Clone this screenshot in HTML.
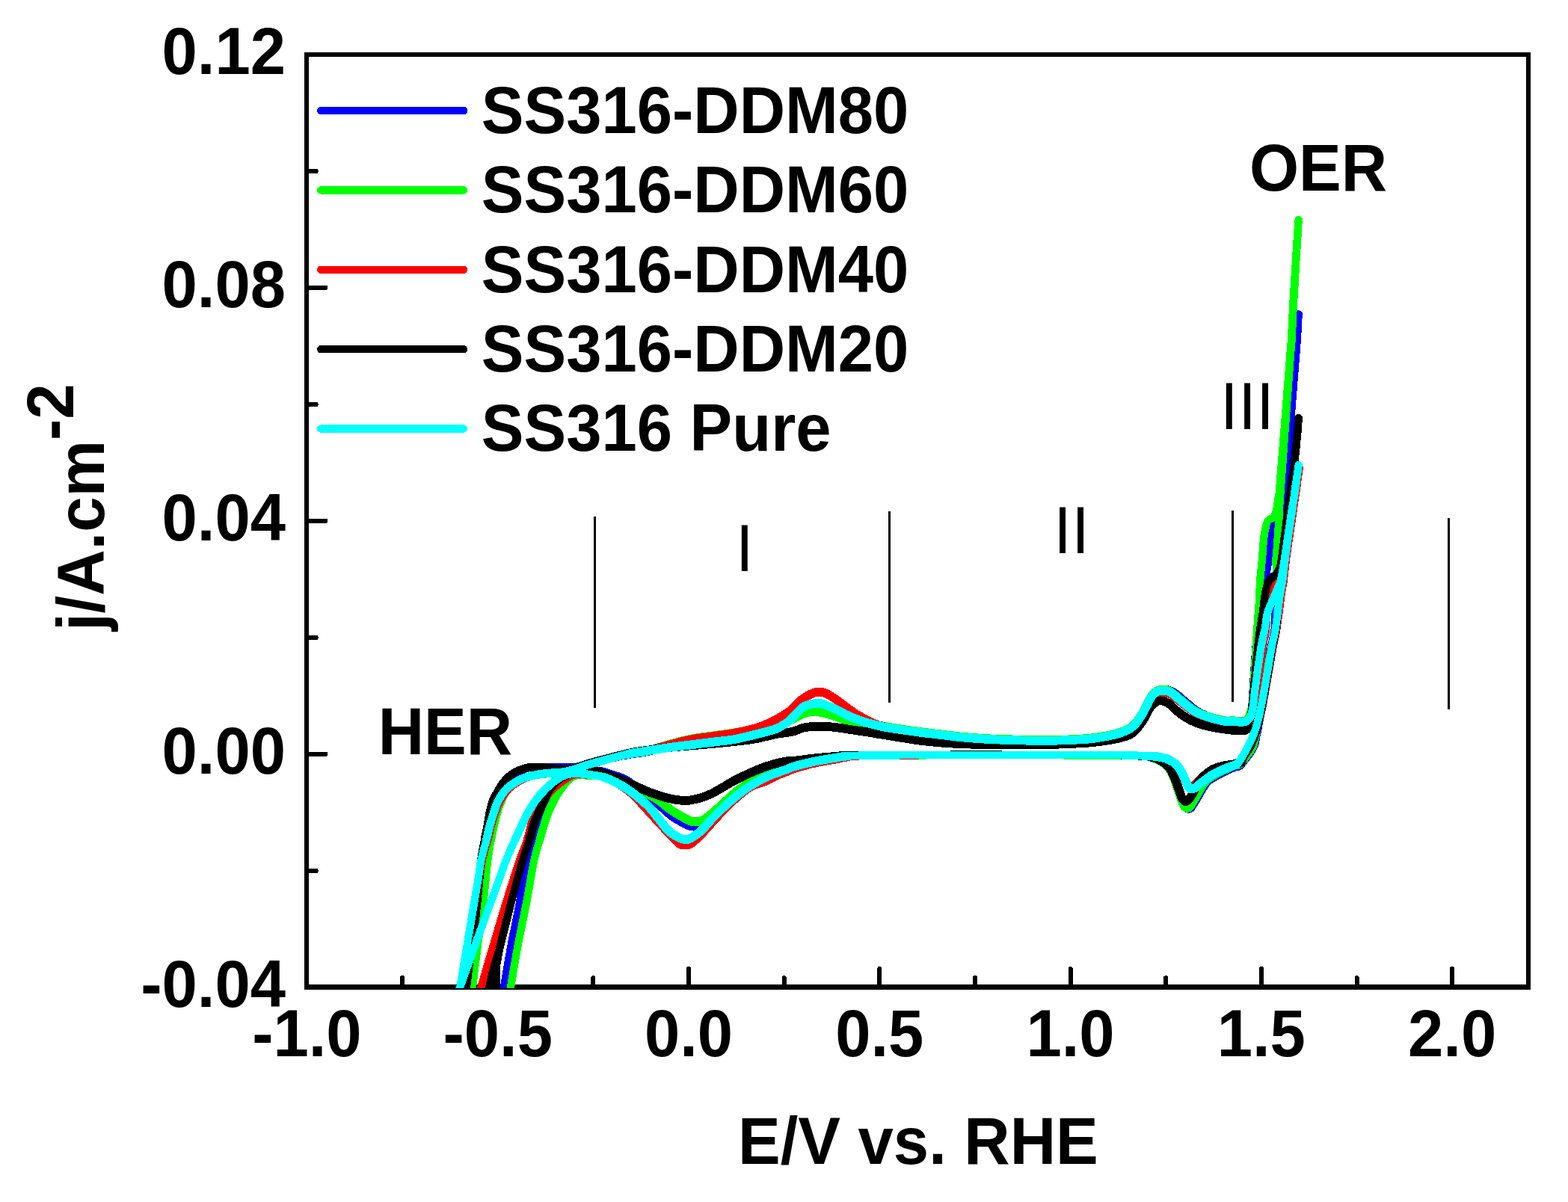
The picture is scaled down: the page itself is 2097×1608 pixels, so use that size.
<!DOCTYPE html>
<html lang="en"><head><meta charset="utf-8"><title>Cyclic voltammetry SS316-DDM</title>
<style>html,body{margin:0;padding:0;background:#fff}body{width:2097px;height:1608px}svg{display:block}text{font-family:"Liberation Sans",sans-serif;font-size:85px;fill:#000}.b{font-weight:bold}.r{font-weight:normal}.c{fill:none;stroke-width:10.3;stroke-linejoin:round;stroke-linecap:round}</style></head><body>
<svg width="2097" height="1608" viewBox="0 0 2097 1608" role="img" aria-label="Cyclic voltammograms of SS316 electrodes">
<rect x="0" y="0" width="2097" height="1608" fill="#fff"/>
<defs><clipPath id="plot"><rect x="410" y="73" width="1634" height="1249"/></clipPath></defs>
<g fill="#000" shape-rendering="crispEdges">
<rect x="407" y="70" width="1640" height="6"/>
<rect x="407" y="1317" width="1640" height="7"/>
<rect x="407" y="70" width="6" height="1254"/>
<rect x="2041" y="70" width="6" height="1253"/>
<rect x="409" y="1162.0" width="16.5" height="6" rx="2"/>
<rect x="409" y="1006.0" width="29.0" height="6" rx="2"/>
<rect x="409" y="850.0" width="16.5" height="6" rx="2"/>
<rect x="409" y="694.0" width="29.0" height="6" rx="2"/>
<rect x="409" y="538.0" width="16.5" height="6" rx="2"/>
<rect x="409" y="382.0" width="29.0" height="6" rx="2"/>
<rect x="409" y="226.0" width="16.5" height="6" rx="2"/>
<rect x="535.1" y="1305.3" width="6" height="16.7" rx="2"/>
<rect x="662.7" y="1293.2" width="6" height="28.8" rx="2"/>
<rect x="790.4" y="1305.3" width="6" height="16.7" rx="2"/>
<rect x="918.0" y="1293.2" width="6" height="28.8" rx="2"/>
<rect x="1045.6" y="1305.3" width="6" height="16.7" rx="2"/>
<rect x="1173.3" y="1293.2" width="6" height="28.8" rx="2"/>
<rect x="1300.9" y="1305.3" width="6" height="16.7" rx="2"/>
<rect x="1428.5" y="1293.2" width="6" height="28.8" rx="2"/>
<rect x="1556.2" y="1305.3" width="6" height="16.7" rx="2"/>
<rect x="1683.8" y="1293.2" width="6" height="28.8" rx="2"/>
<rect x="1811.5" y="1305.3" width="6" height="16.7" rx="2"/>
<rect x="1939.1" y="1293.2" width="6" height="28.8" rx="2"/>
<rect x="794.0" y="691.0" width="3" height="256.0"/>
<rect x="1188.0" y="684.0" width="3" height="256.0"/>
<rect x="1647.0" y="683.0" width="3" height="256.0"/>
<rect x="1936.0" y="693.0" width="3" height="256.0"/>
</g>
<g clip-path="url(#plot)" shape-rendering="crispEdges">
<path class="c" stroke="#0000ff" d="M625.8 1333.1C626.3 1330.8 627.1 1330.8 628.6 1319.4C630.2 1307.9 632.9 1283.1 634.9 1264.4C636.9 1245.8 638.9 1226.3 640.7 1207.2C642.4 1188.1 643.7 1163.9 645.2 1150.0C646.8 1136.1 648.5 1131.8 649.9 1124.0C651.3 1116.2 652.6 1109.7 653.7 1103.3C654.9 1096.8 655.5 1090.8 656.8 1085.0C658.0 1079.3 659.8 1072.9 661.4 1068.8C662.9 1064.7 664.1 1063.8 666.1 1060.4C668.1 1057.1 670.6 1052.2 673.2 1048.6C675.8 1045.1 678.8 1041.9 681.9 1039.2C684.9 1036.6 688.4 1034.6 691.6 1032.9C694.7 1031.2 698.1 1030.1 700.7 1029.1C703.4 1028.1 702.0 1027.4 707.4 1026.9C712.8 1026.4 725.8 1026.3 733.3 1026.2C740.7 1026.0 746.3 1026.2 752.4 1026.2C758.5 1026.2 765.5 1026.4 770.0 1026.2C774.4 1025.9 775.8 1025.3 779.1 1024.5C782.5 1023.6 780.3 1023.5 790.0 1021.0C799.7 1018.6 824.6 1012.5 837.2 1009.8C849.9 1007.2 856.3 1007.2 865.8 1005.1C875.4 1003.0 884.9 999.7 894.4 997.2C904.0 994.7 913.5 992.0 923.1 990.1C932.6 988.2 942.1 987.2 951.7 985.8C961.2 984.3 970.7 983.0 980.3 981.5C989.8 979.9 999.4 978.5 1008.9 976.5C1018.4 974.5 1029.0 971.8 1037.5 969.3C1046.0 966.8 1053.8 964.4 1060.0 961.5C1066.1 958.5 1069.5 953.9 1074.3 951.5C1079.1 949.2 1085.0 948.0 1088.6 947.2C1092.2 946.5 1093.4 946.7 1095.8 947.0C1098.1 947.2 1099.3 947.4 1102.9 948.7C1106.5 949.9 1112.5 952.4 1117.2 954.4C1122.0 956.4 1126.8 958.9 1131.5 960.8C1136.3 962.7 1141.1 964.5 1145.8 965.8C1150.6 967.1 1155.4 967.9 1160.1 968.7C1164.9 969.5 1167.3 969.7 1174.4 970.8C1181.6 972.0 1193.5 974.1 1203.1 975.6C1212.6 977.0 1222.1 978.3 1231.7 979.6C1241.2 980.8 1250.7 981.9 1260.3 983.0C1269.8 984.1 1279.4 985.4 1288.9 986.3C1298.4 987.2 1308.0 987.9 1317.5 988.4C1327.0 989.0 1332.8 989.2 1346.1 989.6C1359.4 989.9 1379.2 990.8 1397.2 990.6C1415.3 990.4 1440.1 989.5 1454.4 988.4C1468.8 987.4 1475.9 985.5 1483.1 984.1C1490.2 982.8 1492.6 982.2 1497.4 980.6C1502.1 979.0 1508.1 976.5 1511.7 974.4C1515.3 972.3 1516.4 970.7 1518.8 968.0C1521.2 965.2 1523.6 961.8 1526.0 958.0C1528.4 954.2 1530.7 949.5 1533.1 945.1C1535.5 940.7 1537.9 934.9 1540.3 931.5C1542.7 928.1 1545.1 926.1 1547.4 924.6C1549.8 923.2 1552.0 923.1 1554.6 922.9C1557.2 922.8 1560.3 922.8 1563.2 923.6C1566.0 924.5 1567.9 925.2 1571.8 927.9C1575.6 930.6 1581.4 936.0 1586.1 939.8C1590.7 943.6 1595.1 947.8 1599.7 950.8C1604.2 953.8 1608.7 955.8 1613.2 957.7C1617.8 959.5 1622.4 960.8 1626.8 962.0C1631.3 963.1 1636.4 964.3 1640.0 964.7C1643.6 965.1 1645.3 964.4 1648.7 964.5C1652.0 964.7 1657.0 965.7 1660.1 965.7C1663.3 965.6 1665.6 965.5 1667.6 964.2C1669.5 962.9 1670.5 960.5 1671.6 957.9C1672.6 955.3 1673.1 958.8 1674.1 948.7C1675.0 938.6 1676.0 915.0 1677.3 897.2C1678.5 879.4 1680.2 854.8 1681.5 842.0C1682.9 829.2 1684.0 827.7 1685.2 820.2C1686.4 812.8 1687.3 805.9 1688.7 797.3C1690.0 788.8 1692.0 776.4 1693.2 768.7C1694.5 761.1 1695.2 758.2 1696.1 751.6C1697.1 744.9 1698.2 735.3 1699.0 728.7C1699.7 722.0 1700.0 715.9 1700.7 711.5C1701.4 707.1 1701.8 704.8 1703.3 702.3C1704.7 699.9 1707.9 698.9 1709.3 696.6C1710.7 694.3 1710.7 692.8 1711.6 688.6C1712.4 684.4 1713.6 676.2 1714.4 671.4C1715.2 666.7 1715.2 669.7 1716.4 660.0C1717.7 650.3 1720.1 632.6 1721.9 613.3C1723.6 594.1 1725.2 567.6 1727.0 544.7C1728.8 521.8 1731.5 491.1 1732.7 476.0C1734.0 460.9 1733.8 463.3 1734.4 454.0C1735.1 444.7 1736.4 425.9 1736.7 420.3"/>
<path class="c" stroke="#0000ff" style="stroke-width:11.0" d="M649.9 1124.0C651.3 1116.2 652.6 1109.7 653.7 1103.3C654.9 1096.8 655.5 1090.8 656.8 1085.0C658.0 1079.3 659.8 1072.9 661.4 1068.8C662.9 1064.7 664.1 1063.8 666.1 1060.4C668.1 1057.1 670.6 1052.2 673.2 1048.6C675.8 1045.1 678.8 1041.9 681.9 1039.2C684.9 1036.6 688.4 1034.6 691.6 1032.9C694.7 1031.2 698.1 1030.1 700.7 1029.1C703.4 1028.1 702.0 1027.4 707.4 1026.9C712.8 1026.4 725.8 1026.3 733.3 1026.2C740.7 1026.0 746.3 1026.2 752.4 1026.2C758.5 1026.2 765.5 1026.4 770.0 1026.2C774.4 1025.9 775.8 1025.3 779.1 1024.5C782.5 1023.6 780.3 1023.5 790.0 1021.0C799.7 1018.6 824.6 1012.5 837.2 1009.8"/>
<path class="c" stroke="#0000ff" style="stroke-width:11.8" d="M837.2 1009.8C849.9 1007.2 856.3 1007.2 865.8 1005.1C875.4 1003.0 884.9 999.7 894.4 997.2C904.0 994.7 913.5 992.0 923.1 990.1C932.6 988.2 942.1 987.2 951.7 985.8C961.2 984.3 970.7 983.0 980.3 981.5C989.8 979.9 999.4 978.5 1008.9 976.5C1018.4 974.5 1029.0 971.8 1037.5 969.3C1046.0 966.8 1053.8 964.4 1060.0 961.5C1066.1 958.5 1069.5 953.9 1074.3 951.5C1079.1 949.2 1085.0 948.0 1088.6 947.2C1092.2 946.5 1093.4 946.7 1095.8 947.0C1098.1 947.2 1099.3 947.4 1102.9 948.7C1106.5 949.9 1112.5 952.4 1117.2 954.4C1122.0 956.4 1126.8 958.9 1131.5 960.8C1136.3 962.7 1141.1 964.5 1145.8 965.8C1150.6 967.1 1155.4 967.9 1160.1 968.7C1164.9 969.5 1167.3 969.7 1174.4 970.8C1181.6 972.0 1193.5 974.1 1203.1 975.6C1212.6 977.0 1222.1 978.3 1231.7 979.6C1241.2 980.8 1250.7 981.9 1260.3 983.0C1269.8 984.1 1279.4 985.4 1288.9 986.3C1298.4 987.2 1308.0 987.9 1317.5 988.4C1327.0 989.0 1332.8 989.2 1346.1 989.6C1359.4 989.9 1379.2 990.8 1397.2 990.6C1415.3 990.4 1440.1 989.5 1454.4 988.4C1468.8 987.4 1475.9 985.5 1483.1 984.1C1490.2 982.8 1492.6 982.2 1497.4 980.6C1502.1 979.0 1508.1 976.5 1511.7 974.4C1515.3 972.3 1516.4 970.7 1518.8 968.0C1521.2 965.2 1523.6 961.8 1526.0 958.0C1528.4 954.2 1530.7 949.5 1533.1 945.1C1535.5 940.7 1537.9 934.9 1540.3 931.5C1542.7 928.1 1545.1 926.1 1547.4 924.6C1549.8 923.2 1552.0 923.1 1554.6 922.9C1557.2 922.8 1560.3 922.8 1563.2 923.6C1566.0 924.5 1567.9 925.2 1571.8 927.9C1575.6 930.6 1581.4 936.0 1586.1 939.8C1590.7 943.6 1595.1 947.8 1599.7 950.8C1604.2 953.8 1608.7 955.8 1613.2 957.7C1617.8 959.5 1622.4 960.8 1626.8 962.0C1631.3 963.1 1636.4 964.3 1640.0 964.7C1643.6 965.1 1645.3 964.4 1648.7 964.5C1652.0 964.7 1657.0 965.7 1660.1 965.7C1663.3 965.6 1665.6 965.5 1667.6 964.2"/>
<path class="c" stroke="#0000ff" d="M1736.7 420.3C1736.4 425.9 1735.4 444.7 1734.8 454.0C1734.2 463.3 1734.3 460.9 1733.1 476.0C1731.9 491.1 1729.4 521.8 1727.6 544.7C1725.8 567.6 1724.1 594.1 1722.4 613.3C1720.8 632.6 1718.8 646.5 1717.6 660.0C1716.3 673.5 1716.0 682.9 1715.0 694.3C1714.0 705.8 1712.6 719.1 1711.6 728.7C1710.5 738.2 1709.6 743.9 1708.7 751.6C1707.8 759.2 1707.0 766.8 1706.4 774.4C1705.8 782.1 1705.5 789.7 1705.3 797.3C1705.1 805.0 1705.4 812.8 1705.3 820.2C1705.2 827.7 1706.2 831.1 1704.6 842.0C1703.0 852.9 1697.9 872.8 1695.6 885.8C1693.3 898.8 1692.4 910.6 1691.0 920.1C1689.7 929.7 1688.7 935.4 1687.6 943.0C1686.4 950.6 1685.3 959.2 1684.1 965.9C1683.0 972.6 1682.0 977.3 1680.7 983.1C1679.4 988.8 1679.8 993.7 1676.4 1000.2C1672.9 1006.8 1664.0 1018.1 1660.0 1022.3C1656.0 1026.5 1655.4 1024.1 1652.2 1025.5C1648.9 1026.8 1644.5 1028.8 1640.7 1030.6C1636.8 1032.4 1632.8 1034.2 1628.8 1036.5C1624.8 1038.7 1619.6 1041.5 1616.5 1044.0C1613.4 1046.5 1612.1 1048.7 1610.0 1051.7C1608.0 1054.7 1606.0 1058.6 1604.0 1061.9C1602.1 1065.2 1600.5 1068.2 1598.4 1071.4C1596.4 1074.6 1594.0 1079.6 1591.8 1081.0C1589.6 1082.4 1586.9 1081.2 1585.2 1079.8C1583.5 1078.4 1582.7 1075.5 1581.5 1072.7C1580.2 1069.9 1579.0 1066.3 1577.8 1062.9C1576.6 1059.6 1575.7 1056.5 1574.3 1052.6C1573.0 1048.8 1571.5 1044.1 1569.8 1040.1C1568.0 1036.1 1566.6 1032.0 1564.0 1028.6C1561.5 1025.2 1558.3 1022.0 1554.3 1019.5C1550.3 1016.9 1544.7 1014.5 1540.0 1013.2C1535.3 1011.9 1533.1 1012.1 1526.0 1011.6C1518.9 1011.2 1528.4 1010.7 1497.4 1010.5C1466.4 1010.2 1389.1 1010.1 1340.0 1010.0C1290.9 1010.0 1233.0 1010.2 1203.1 1010.3C1173.1 1010.4 1172.1 1010.4 1160.1 1010.6C1148.2 1010.8 1138.7 1011.2 1131.5 1011.6C1124.4 1012.0 1124.4 1012.1 1117.2 1013.0C1110.1 1014.0 1098.1 1015.7 1088.6 1017.3C1079.1 1019.0 1066.1 1021.6 1060.0 1023.1C1053.9 1024.5 1055.3 1024.7 1051.8 1025.8C1048.3 1027.0 1043.4 1028.3 1038.9 1029.8C1034.5 1031.4 1029.6 1033.1 1024.9 1035.1C1020.3 1037.1 1015.6 1039.4 1011.0 1041.9C1006.5 1044.4 1002.1 1047.0 997.5 1050.2C992.9 1053.3 988.2 1056.9 983.4 1060.9C978.7 1064.9 973.9 1069.5 969.1 1074.2C964.4 1078.8 958.9 1084.4 954.8 1088.8C950.7 1093.1 947.4 1097.6 944.5 1100.2C941.6 1102.9 939.8 1103.6 937.4 1104.5C935.0 1105.4 932.6 1105.6 930.2 1105.7C927.8 1105.7 926.3 1106.0 923.1 1104.9C919.8 1103.9 915.2 1101.6 910.9 1099.2C906.6 1096.8 902.0 1094.2 897.3 1090.6C892.7 1087.1 888.2 1082.4 883.0 1078.1C877.8 1073.7 873.5 1070.2 865.8 1064.5C858.2 1058.7 844.4 1048.1 837.2 1043.7C830.1 1039.3 828.9 1040.0 822.9 1038.0C817.0 1036.0 806.9 1031.9 801.5 1031.6C796.0 1031.2 793.7 1035.3 790.0 1035.9C786.3 1036.6 782.5 1035.3 779.1 1035.3C775.8 1035.4 772.8 1035.6 770.0 1036.3C767.2 1037.1 764.7 1038.3 762.3 1039.8C759.9 1041.2 758.0 1042.6 755.4 1045.1C752.9 1047.7 749.4 1052.0 747.0 1055.1C744.6 1058.1 743.3 1059.9 740.9 1063.5C738.5 1067.0 734.8 1072.7 732.5 1076.5C730.2 1080.3 728.9 1082.6 727.1 1086.4C725.4 1090.2 723.7 1095.3 722.2 1099.4C720.6 1103.5 719.2 1107.0 718.0 1110.9C716.7 1114.8 717.2 1116.5 714.9 1123.0C712.6 1129.5 707.5 1136.0 704.2 1150.0C700.9 1164.0 698.5 1188.1 695.0 1207.2C691.6 1226.3 687.1 1245.8 683.6 1264.4C680.1 1283.1 676.1 1307.9 674.1 1319.4C672.1 1330.8 672.0 1330.8 671.6 1333.1"/>
<path class="c" stroke="#0000ff" style="stroke-width:11.8" d="M1660.0 1022.3C1656.0 1026.5 1655.4 1024.1 1652.2 1025.5C1648.9 1026.8 1644.5 1028.8 1640.7 1030.6C1636.8 1032.4 1632.8 1034.2 1628.8 1036.5C1624.8 1038.7 1619.6 1041.5 1616.5 1044.0C1613.4 1046.5 1612.1 1048.7 1610.0 1051.7C1608.0 1054.7 1606.0 1058.6 1604.0 1061.9C1602.1 1065.2 1600.5 1068.2 1598.4 1071.4C1596.4 1074.6 1594.0 1079.6 1591.8 1081.0C1589.6 1082.4 1586.9 1081.2 1585.2 1079.8C1583.5 1078.4 1582.7 1075.5 1581.5 1072.7C1580.2 1069.9 1579.0 1066.3 1577.8 1062.9C1576.6 1059.6 1575.7 1056.5 1574.3 1052.6C1573.0 1048.8 1571.5 1044.1 1569.8 1040.1C1568.0 1036.1 1566.6 1032.0 1564.0 1028.6C1561.5 1025.2 1558.3 1022.0 1554.3 1019.5C1550.3 1016.9 1544.7 1014.5 1540.0 1013.2"/>
<path class="c" stroke="#0000ff" style="stroke-width:10.6" d="M1540.0 1013.2C1535.3 1011.9 1533.1 1012.1 1526.0 1011.6C1518.9 1011.2 1528.4 1010.7 1497.4 1010.5C1466.4 1010.2 1389.1 1010.1 1340.0 1010.0C1290.9 1010.0 1233.0 1010.2 1203.1 1010.3C1173.1 1010.4 1172.1 1010.4 1160.1 1010.6C1148.2 1010.8 1138.7 1011.2 1131.5 1011.6"/>
<path class="c" stroke="#0000ff" style="stroke-width:11.8" d="M1131.5 1011.6C1124.4 1012.0 1124.4 1012.1 1117.2 1013.0C1110.1 1014.0 1098.1 1015.7 1088.6 1017.3C1079.1 1019.0 1066.1 1021.6 1060.0 1023.1C1053.9 1024.5 1055.3 1024.7 1051.8 1025.8C1048.3 1027.0 1043.4 1028.3 1038.9 1029.8C1034.5 1031.4 1029.6 1033.1 1024.9 1035.1C1020.3 1037.1 1015.6 1039.4 1011.0 1041.9C1006.5 1044.4 1002.1 1047.0 997.5 1050.2C992.9 1053.3 988.2 1056.9 983.4 1060.9C978.7 1064.9 973.9 1069.5 969.1 1074.2C964.4 1078.8 958.9 1084.4 954.8 1088.8C950.7 1093.1 947.4 1097.6 944.5 1100.2C941.6 1102.9 939.8 1103.6 937.4 1104.5C935.0 1105.4 932.6 1105.6 930.2 1105.7C927.8 1105.7 926.3 1106.0 923.1 1104.9C919.8 1103.9 915.2 1101.6 910.9 1099.2C906.6 1096.8 902.0 1094.2 897.3 1090.6C892.7 1087.1 888.2 1082.4 883.0 1078.1C877.8 1073.7 873.5 1070.2 865.8 1064.5C858.2 1058.7 844.4 1048.1 837.2 1043.7C830.1 1039.3 828.9 1040.0 822.9 1038.0C817.0 1036.0 806.9 1031.9 801.5 1031.6"/>
<path class="c" stroke="#0000ff" style="stroke-width:11.0" d="M801.5 1031.6C796.0 1031.2 793.7 1035.3 790.0 1035.9C786.3 1036.6 782.5 1035.3 779.1 1035.3C775.8 1035.4 772.8 1035.6 770.0 1036.3C767.2 1037.1 764.7 1038.3 762.3 1039.8C759.9 1041.2 758.0 1042.6 755.4 1045.1C752.9 1047.7 749.4 1052.0 747.0 1055.1C744.6 1058.1 743.3 1059.9 740.9 1063.5C738.5 1067.0 734.8 1072.7 732.5 1076.5C730.2 1080.3 728.9 1082.6 727.1 1086.4C725.4 1090.2 723.7 1095.3 722.2 1099.4C720.6 1103.5 719.2 1107.0 718.0 1110.9C716.7 1114.8 717.2 1116.5 714.9 1123.0"/>
<path class="c" stroke="#00ff00" d="M630.4 1333.1C630.6 1330.8 630.6 1330.8 632.1 1319.4C633.5 1307.9 636.6 1283.1 638.9 1264.4C641.3 1245.8 644.1 1226.3 646.4 1207.2C648.6 1188.1 650.7 1164.0 652.4 1150.0C654.2 1136.0 655.7 1129.5 656.8 1123.0C657.9 1116.5 658.2 1114.8 659.1 1110.9C659.9 1107.0 660.8 1103.3 661.7 1099.4C662.7 1095.6 663.7 1091.8 664.8 1088.0C665.9 1084.1 667.1 1079.7 668.2 1076.5C669.4 1073.3 670.5 1071.4 671.7 1068.8C672.9 1066.3 674.1 1063.5 675.5 1061.2C676.9 1058.9 678.4 1056.9 680.1 1055.1C681.8 1053.2 683.3 1051.8 685.4 1050.1C687.6 1048.4 690.2 1046.6 692.7 1045.1C695.2 1043.7 697.4 1042.4 700.4 1041.3C703.3 1040.2 706.7 1039.1 710.3 1038.2C713.9 1037.3 717.3 1036.6 721.8 1035.9C726.2 1035.3 732.0 1034.9 737.1 1034.4C742.2 1033.9 747.9 1033.7 752.4 1033.0C756.8 1032.4 760.0 1031.8 763.8 1030.7C767.7 1029.7 771.0 1028.4 775.3 1026.9C779.7 1025.5 779.7 1024.9 790.0 1022.0C800.3 1019.0 824.6 1012.3 837.2 1009.4C849.9 1006.5 856.3 1006.9 865.8 1004.7C875.4 1002.4 884.9 998.7 894.4 996.1C904.0 993.5 913.5 990.8 923.1 988.9C932.6 987.0 942.1 986.0 951.7 984.6C961.2 983.3 970.7 982.2 980.3 980.6C989.8 979.1 999.4 977.5 1008.9 975.5C1018.4 973.5 1029.0 970.9 1037.5 968.6C1046.0 966.4 1053.8 964.3 1060.0 962.0C1066.1 959.7 1069.5 956.5 1074.3 954.8C1079.1 953.1 1083.8 952.1 1088.6 952.0C1093.4 951.8 1098.1 953.0 1102.9 954.1C1107.7 955.2 1112.5 956.8 1117.2 958.4C1122.0 959.9 1126.8 962.1 1131.5 963.4C1136.3 964.7 1141.1 965.4 1145.8 966.3C1150.6 967.1 1155.4 968.0 1160.1 968.7C1164.9 969.4 1167.3 969.3 1174.4 970.4C1181.6 971.5 1193.5 973.7 1203.1 975.1C1212.6 976.6 1222.1 977.9 1231.7 979.1C1241.2 980.4 1250.7 981.5 1260.3 982.6C1269.8 983.7 1279.4 985.0 1288.9 985.9C1298.4 986.8 1308.0 987.5 1317.5 988.0C1327.0 988.6 1332.8 988.8 1346.1 989.2C1359.4 989.5 1379.2 990.3 1397.2 990.2C1415.3 990.0 1440.1 989.1 1454.4 988.0C1468.8 986.9 1475.9 985.0 1483.1 983.7C1490.2 982.4 1492.6 981.8 1497.4 980.1C1502.1 978.5 1508.1 975.9 1511.7 973.7C1515.3 971.6 1516.4 970.0 1518.8 967.3C1521.2 964.5 1523.6 961.1 1526.0 957.3C1528.4 953.4 1530.7 948.8 1533.1 944.4C1535.5 940.0 1537.9 934.1 1540.3 930.8C1542.7 927.4 1545.1 925.7 1547.4 924.3C1549.8 923.0 1552.2 922.8 1554.6 922.6C1557.0 922.5 1559.4 922.8 1561.7 923.6C1564.1 924.5 1565.3 924.9 1568.9 927.6C1572.5 930.3 1578.4 936.0 1583.2 939.8C1588.0 943.6 1592.7 947.8 1597.5 950.7C1602.3 953.6 1607.0 955.4 1611.8 957.3C1616.6 959.1 1621.4 960.4 1626.1 961.5C1630.8 962.7 1636.2 964.0 1640.0 964.4C1643.8 964.8 1645.3 964.1 1648.7 964.2C1652.0 964.3 1657.2 965.2 1660.1 965.1C1663.1 965.0 1664.7 964.8 1666.4 963.6C1668.1 962.4 1669.5 960.0 1670.4 957.9C1671.4 955.8 1671.4 953.5 1672.1 951.0C1672.8 948.5 1673.6 952.0 1674.5 943.0C1675.5 934.0 1676.6 914.4 1677.7 897.2C1678.9 880.1 1680.4 854.7 1681.4 840.0C1682.4 825.3 1683.0 819.7 1683.6 808.8C1684.3 797.9 1684.7 784.0 1685.4 774.4C1686.0 764.9 1686.9 760.1 1687.6 751.6C1688.4 743.0 1689.2 730.2 1689.9 722.9C1690.7 715.7 1691.1 712.5 1692.1 708.1C1693.1 703.7 1693.8 699.4 1695.7 696.6C1697.6 693.8 1701.6 693.8 1703.5 691.4C1705.5 688.9 1706.3 685.8 1707.2 681.7C1708.2 677.7 1708.7 670.5 1709.3 666.9C1709.9 663.2 1708.0 691.8 1710.7 660.0C1713.4 628.2 1722.6 510.3 1725.3 476.0C1728.0 441.7 1726.3 465.5 1727.0 454.0C1727.7 442.6 1728.4 422.8 1729.3 407.3C1730.2 391.9 1731.2 376.8 1732.2 361.6C1733.1 346.3 1734.3 327.0 1735.0 315.8C1735.8 304.5 1736.5 297.7 1736.7 294.0"/>
<path class="c" stroke="#00ff00" style="stroke-width:11.0" d="M656.8 1123.0C657.9 1116.5 658.2 1114.8 659.1 1110.9C659.9 1107.0 660.8 1103.3 661.7 1099.4C662.7 1095.6 663.7 1091.8 664.8 1088.0C665.9 1084.1 667.1 1079.7 668.2 1076.5C669.4 1073.3 670.5 1071.4 671.7 1068.8C672.9 1066.3 674.1 1063.5 675.5 1061.2C676.9 1058.9 678.4 1056.9 680.1 1055.1C681.8 1053.2 683.3 1051.8 685.4 1050.1C687.6 1048.4 690.2 1046.6 692.7 1045.1C695.2 1043.7 697.4 1042.4 700.4 1041.3C703.3 1040.2 706.7 1039.1 710.3 1038.2C713.9 1037.3 717.3 1036.6 721.8 1035.9C726.2 1035.3 732.0 1034.9 737.1 1034.4C742.2 1033.9 747.9 1033.7 752.4 1033.0C756.8 1032.4 760.0 1031.8 763.8 1030.7C767.7 1029.7 771.0 1028.4 775.3 1026.9C779.7 1025.5 779.7 1024.9 790.0 1022.0C800.3 1019.0 824.6 1012.3 837.2 1009.4"/>
<path class="c" stroke="#00ff00" style="stroke-width:11.8" d="M837.2 1009.4C849.9 1006.5 856.3 1006.9 865.8 1004.7C875.4 1002.4 884.9 998.7 894.4 996.1C904.0 993.5 913.5 990.8 923.1 988.9C932.6 987.0 942.1 986.0 951.7 984.6C961.2 983.3 970.7 982.2 980.3 980.6C989.8 979.1 999.4 977.5 1008.9 975.5C1018.4 973.5 1029.0 970.9 1037.5 968.6C1046.0 966.4 1053.8 964.3 1060.0 962.0C1066.1 959.7 1069.5 956.5 1074.3 954.8C1079.1 953.1 1083.8 952.1 1088.6 952.0C1093.4 951.8 1098.1 953.0 1102.9 954.1C1107.7 955.2 1112.5 956.8 1117.2 958.4C1122.0 959.9 1126.8 962.1 1131.5 963.4C1136.3 964.7 1141.1 965.4 1145.8 966.3C1150.6 967.1 1155.4 968.0 1160.1 968.7C1164.9 969.4 1167.3 969.3 1174.4 970.4C1181.6 971.5 1193.5 973.7 1203.1 975.1C1212.6 976.6 1222.1 977.9 1231.7 979.1C1241.2 980.4 1250.7 981.5 1260.3 982.6C1269.8 983.7 1279.4 985.0 1288.9 985.9C1298.4 986.8 1308.0 987.5 1317.5 988.0C1327.0 988.6 1332.8 988.8 1346.1 989.2C1359.4 989.5 1379.2 990.3 1397.2 990.2C1415.3 990.0 1440.1 989.1 1454.4 988.0C1468.8 986.9 1475.9 985.0 1483.1 983.7C1490.2 982.4 1492.6 981.8 1497.4 980.1C1502.1 978.5 1508.1 975.9 1511.7 973.7C1515.3 971.6 1516.4 970.0 1518.8 967.3C1521.2 964.5 1523.6 961.1 1526.0 957.3C1528.4 953.4 1530.7 948.8 1533.1 944.4C1535.5 940.0 1537.9 934.1 1540.3 930.8C1542.7 927.4 1545.1 925.7 1547.4 924.3C1549.8 923.0 1552.2 922.8 1554.6 922.6C1557.0 922.5 1559.4 922.8 1561.7 923.6C1564.1 924.5 1565.3 924.9 1568.9 927.6C1572.5 930.3 1578.4 936.0 1583.2 939.8C1588.0 943.6 1592.7 947.8 1597.5 950.7C1602.3 953.6 1607.0 955.4 1611.8 957.3C1616.6 959.1 1621.4 960.4 1626.1 961.5C1630.8 962.7 1636.2 964.0 1640.0 964.4C1643.8 964.8 1645.3 964.1 1648.7 964.2C1652.0 964.3 1657.2 965.2 1660.1 965.1C1663.1 965.0 1664.7 964.8 1666.4 963.6"/>
<path class="c" stroke="#00ff00" d="M1736.7 294.0C1736.5 297.7 1736.1 304.5 1735.4 315.8C1734.7 327.0 1733.5 346.3 1732.6 361.6C1731.7 376.8 1730.7 391.9 1729.9 407.3C1729.0 422.8 1728.2 442.6 1727.6 454.0C1726.9 465.5 1728.4 441.7 1725.9 476.0C1723.3 510.3 1715.0 623.6 1712.4 660.0C1709.8 696.4 1711.1 682.9 1710.4 694.3C1709.7 705.8 1708.8 719.1 1708.1 728.7C1707.5 738.2 1706.3 743.9 1706.4 751.6C1706.5 759.2 1708.1 766.8 1708.7 774.4C1709.3 782.1 1709.9 789.7 1709.8 797.3C1709.8 805.0 1709.1 812.4 1708.4 820.2C1707.6 828.0 1706.8 836.9 1705.6 844.0C1704.4 851.1 1702.8 855.9 1701.3 862.9C1699.8 869.8 1698.6 876.2 1696.7 885.8C1694.9 895.3 1692.1 910.6 1690.4 920.1C1688.8 929.7 1687.9 935.4 1686.7 943.0C1685.4 950.6 1684.2 959.2 1683.0 965.9C1681.8 972.6 1680.9 977.3 1679.6 983.1C1678.2 988.8 1678.3 994.0 1675.0 1000.2C1671.7 1006.5 1663.9 1016.7 1660.0 1020.6C1656.1 1024.5 1654.7 1022.3 1651.3 1023.6C1647.9 1025.0 1643.7 1026.9 1639.8 1028.8C1635.9 1030.6 1631.9 1032.5 1627.8 1034.7C1623.7 1037.0 1618.4 1039.8 1615.2 1042.5C1612.0 1045.1 1610.6 1047.4 1608.4 1050.5C1606.3 1053.6 1604.3 1057.6 1602.4 1060.9C1600.4 1064.2 1598.7 1067.1 1596.8 1070.3C1594.8 1073.4 1592.7 1078.4 1590.6 1080.0C1588.6 1081.5 1586.2 1080.8 1584.6 1079.5C1583.1 1078.3 1582.3 1075.4 1581.2 1072.7C1580.1 1069.9 1578.9 1066.3 1577.8 1062.9C1576.6 1059.6 1575.7 1056.5 1574.3 1052.6C1573.0 1048.8 1571.5 1044.1 1569.8 1040.1C1568.0 1036.1 1566.6 1032.0 1564.0 1028.6C1561.5 1025.2 1558.3 1022.0 1554.3 1019.5C1550.3 1016.9 1544.7 1014.5 1540.0 1013.2C1535.3 1011.9 1533.1 1012.1 1526.0 1011.6C1518.9 1011.2 1528.4 1010.7 1497.4 1010.5C1466.4 1010.2 1389.1 1010.1 1340.0 1010.0C1290.9 1010.0 1233.0 1010.2 1203.1 1010.3C1173.1 1010.4 1172.1 1010.4 1160.1 1010.6C1148.2 1010.9 1138.7 1011.3 1131.5 1011.9C1124.4 1012.5 1124.4 1012.9 1117.2 1014.0C1110.1 1015.2 1098.1 1016.9 1088.6 1018.8C1079.1 1020.6 1066.1 1023.8 1060.0 1025.2C1053.9 1026.6 1055.3 1026.3 1051.8 1027.3C1048.3 1028.2 1043.4 1029.5 1038.9 1030.8C1034.5 1032.2 1029.6 1033.7 1024.9 1035.6C1020.3 1037.4 1015.6 1039.5 1011.0 1041.9C1006.5 1044.2 1002.1 1046.8 997.5 1049.9C992.9 1052.9 988.2 1056.3 983.4 1060.2C978.7 1064.0 973.9 1068.8 969.1 1073.0C964.4 1077.3 959.6 1081.9 954.8 1085.9C950.1 1089.9 944.6 1094.9 940.5 1097.1C936.4 1099.3 933.0 1099.0 930.2 1099.2C927.4 1099.5 927.0 1099.7 923.8 1098.5C920.6 1097.3 915.3 1094.4 910.9 1091.9C906.5 1089.4 902.0 1086.8 897.3 1083.5C892.7 1080.2 888.2 1076.0 883.0 1072.3C877.8 1068.7 873.5 1065.3 865.8 1061.6C858.2 1057.9 846.8 1054.0 837.2 1050.2C827.7 1046.3 816.5 1040.8 808.6 1038.7C800.7 1036.7 794.9 1038.3 790.0 1037.9C785.1 1037.5 782.2 1036.5 779.1 1036.3C776.1 1036.1 773.9 1036.1 771.5 1036.7C769.1 1037.3 766.8 1038.4 764.6 1039.8C762.4 1041.2 760.8 1042.6 758.5 1045.1C756.1 1047.7 752.8 1052.0 750.5 1055.1C748.2 1058.1 746.6 1060.2 744.7 1063.5C742.8 1066.7 740.9 1070.7 739.0 1074.6C737.1 1078.4 734.8 1082.5 733.3 1086.4C731.7 1090.3 730.7 1093.9 729.4 1097.9C728.2 1101.8 726.8 1106.1 725.6 1110.1C724.4 1114.2 724.0 1115.7 722.2 1122.4C720.3 1129.0 717.5 1135.9 714.5 1150.0C711.5 1164.1 707.8 1188.1 704.2 1207.2C700.6 1226.3 696.2 1245.8 692.7 1264.4C689.2 1283.1 685.2 1307.9 683.2 1319.4C681.2 1330.8 681.1 1330.8 680.7 1333.1"/>
<path class="c" stroke="#00ff00" style="stroke-width:11.8" d="M1660.0 1020.6C1656.1 1024.5 1654.7 1022.3 1651.3 1023.6C1647.9 1025.0 1643.7 1026.9 1639.8 1028.8C1635.9 1030.6 1631.9 1032.5 1627.8 1034.7C1623.7 1037.0 1618.4 1039.8 1615.2 1042.5C1612.0 1045.1 1610.6 1047.4 1608.4 1050.5C1606.3 1053.6 1604.3 1057.6 1602.4 1060.9C1600.4 1064.2 1598.7 1067.1 1596.8 1070.3C1594.8 1073.4 1592.7 1078.4 1590.6 1080.0C1588.6 1081.5 1586.2 1080.8 1584.6 1079.5C1583.1 1078.3 1582.3 1075.4 1581.2 1072.7C1580.1 1069.9 1578.9 1066.3 1577.8 1062.9C1576.6 1059.6 1575.7 1056.5 1574.3 1052.6C1573.0 1048.8 1571.5 1044.1 1569.8 1040.1C1568.0 1036.1 1566.6 1032.0 1564.0 1028.6C1561.5 1025.2 1558.3 1022.0 1554.3 1019.5C1550.3 1016.9 1544.7 1014.5 1540.0 1013.2"/>
<path class="c" stroke="#00ff00" style="stroke-width:10.6" d="M1540.0 1013.2C1535.3 1011.9 1533.1 1012.1 1526.0 1011.6C1518.9 1011.2 1528.4 1010.7 1497.4 1010.5C1466.4 1010.2 1389.1 1010.1 1340.0 1010.0C1290.9 1010.0 1233.0 1010.2 1203.1 1010.3C1173.1 1010.4 1172.1 1010.4 1160.1 1010.6C1148.2 1010.9 1138.7 1011.3 1131.5 1011.9"/>
<path class="c" stroke="#00ff00" style="stroke-width:11.8" d="M1131.5 1011.9C1124.4 1012.5 1124.4 1012.9 1117.2 1014.0C1110.1 1015.2 1098.1 1016.9 1088.6 1018.8C1079.1 1020.6 1066.1 1023.8 1060.0 1025.2C1053.9 1026.6 1055.3 1026.3 1051.8 1027.3C1048.3 1028.2 1043.4 1029.5 1038.9 1030.8C1034.5 1032.2 1029.6 1033.7 1024.9 1035.6C1020.3 1037.4 1015.6 1039.5 1011.0 1041.9C1006.5 1044.2 1002.1 1046.8 997.5 1049.9C992.9 1052.9 988.2 1056.3 983.4 1060.2C978.7 1064.0 973.9 1068.8 969.1 1073.0C964.4 1077.3 959.6 1081.9 954.8 1085.9C950.1 1089.9 944.6 1094.9 940.5 1097.1C936.4 1099.3 933.0 1099.0 930.2 1099.2C927.4 1099.5 927.0 1099.7 923.8 1098.5C920.6 1097.3 915.3 1094.4 910.9 1091.9C906.5 1089.4 902.0 1086.8 897.3 1083.5C892.7 1080.2 888.2 1076.0 883.0 1072.3C877.8 1068.7 873.5 1065.3 865.8 1061.6C858.2 1057.9 846.8 1054.0 837.2 1050.2C827.7 1046.3 816.5 1040.8 808.6 1038.7"/>
<path class="c" stroke="#00ff00" style="stroke-width:11.0" d="M808.6 1038.7C800.7 1036.7 794.9 1038.3 790.0 1037.9C785.1 1037.5 782.2 1036.5 779.1 1036.3C776.1 1036.1 773.9 1036.1 771.5 1036.7C769.1 1037.3 766.8 1038.4 764.6 1039.8C762.4 1041.2 760.8 1042.6 758.5 1045.1C756.1 1047.7 752.8 1052.0 750.5 1055.1C748.2 1058.1 746.6 1060.2 744.7 1063.5C742.8 1066.7 740.9 1070.7 739.0 1074.6C737.1 1078.4 734.8 1082.5 733.3 1086.4C731.7 1090.3 730.7 1093.9 729.4 1097.9C728.2 1101.8 726.8 1106.1 725.6 1110.1C724.4 1114.2 724.0 1115.7 722.2 1122.4"/>
<path class="c" stroke="#ff0000" d="M614.8 1333.1C615.2 1330.8 616.1 1325.1 617.1 1319.4C618.0 1313.7 619.0 1307.9 620.5 1298.8C622.0 1289.6 624.3 1275.9 626.2 1264.4C628.1 1253.0 630.1 1241.6 632.0 1230.1C633.9 1218.7 636.1 1205.3 637.7 1195.8C639.3 1186.2 640.4 1180.5 641.7 1172.9C642.9 1165.3 643.4 1158.3 645.1 1150.0C646.9 1141.7 650.6 1129.5 652.3 1123.0C653.9 1116.5 654.0 1114.8 654.9 1110.9C655.9 1107.0 656.8 1103.3 658.0 1099.4C659.1 1095.6 660.4 1091.8 661.8 1088.0C663.2 1084.1 664.8 1079.7 666.2 1076.5C667.6 1073.3 668.8 1071.4 670.2 1068.8C671.7 1066.3 673.2 1063.5 675.0 1061.2C676.7 1058.8 678.6 1056.6 680.5 1054.7C682.5 1052.8 684.4 1051.4 686.7 1049.7C689.0 1048.1 691.8 1046.2 694.3 1044.7C696.9 1043.3 699.0 1042.1 702.0 1040.9C704.9 1039.7 708.3 1038.5 711.9 1037.5C715.5 1036.5 718.9 1035.6 723.4 1034.8C727.8 1034.0 733.6 1033.5 738.7 1032.9C743.8 1032.3 749.5 1031.9 754.0 1031.4C758.4 1030.8 761.6 1030.3 765.4 1029.4C769.3 1028.6 772.6 1027.7 776.9 1026.4C781.3 1025.1 781.5 1024.7 791.6 1021.8C801.7 1018.9 824.9 1012.0 837.2 1009.1C849.6 1006.2 856.3 1006.3 865.8 1004.2C875.4 1002.2 884.9 999.2 894.4 996.8C904.0 994.4 913.5 991.5 923.1 989.6C932.6 987.7 942.1 986.8 951.7 985.4C961.2 983.9 970.7 982.8 980.3 981.1C989.8 979.3 1001.7 976.5 1008.9 974.6C1016.1 972.7 1018.4 971.6 1023.2 969.6C1028.0 967.7 1032.7 965.4 1037.5 962.9C1042.3 960.3 1048.1 956.8 1051.8 954.3C1055.6 951.8 1056.3 951.3 1060.0 948.0C1063.7 944.6 1069.5 937.9 1074.3 934.4C1079.1 930.8 1085.0 928.1 1088.6 926.8C1092.2 925.4 1093.4 926.2 1095.8 926.2C1098.1 926.2 1099.3 925.3 1102.9 926.8C1106.5 928.3 1112.5 931.9 1117.2 935.1C1122.0 938.2 1126.8 942.4 1131.5 945.8C1136.3 949.3 1141.1 952.8 1145.8 955.8C1150.6 958.8 1155.4 961.3 1160.1 963.7C1164.9 966.1 1169.7 968.5 1174.4 970.1C1179.2 971.8 1184.0 972.7 1188.8 973.7C1193.5 974.7 1195.9 975.1 1203.1 976.1C1210.2 977.2 1222.1 978.9 1231.7 980.1C1241.2 981.4 1250.7 982.5 1260.3 983.6C1269.8 984.7 1279.4 986.0 1288.9 986.9C1298.4 987.8 1308.0 988.5 1317.5 989.0C1327.0 989.6 1332.8 989.8 1346.1 990.2C1359.4 990.5 1379.2 991.3 1397.2 991.2C1415.3 991.0 1440.1 990.1 1454.4 989.0C1468.8 987.9 1475.9 986.0 1483.1 984.7C1490.2 983.4 1492.6 982.9 1497.4 981.3C1502.1 979.7 1508.1 977.2 1511.7 975.1C1515.3 973.1 1516.4 971.6 1518.8 969.0C1521.2 966.4 1523.6 963.1 1526.0 959.4C1528.4 955.7 1530.7 950.8 1533.1 946.5C1535.5 942.2 1537.9 936.7 1540.3 933.6C1542.7 930.5 1545.1 929.1 1547.4 927.9C1549.8 926.7 1552.2 926.6 1554.6 926.5C1557.0 926.4 1559.4 926.5 1561.7 927.2C1564.1 927.9 1565.3 928.3 1568.9 930.8C1572.5 933.3 1578.4 938.6 1583.2 942.2C1588.0 945.9 1592.7 949.9 1597.5 952.7C1602.3 955.5 1607.0 957.3 1611.8 959.1C1616.6 960.9 1621.4 962.2 1626.1 963.4C1630.8 964.6 1636.2 965.9 1640.0 966.3C1643.8 966.6 1645.3 965.3 1648.7 965.3C1652.0 965.4 1656.9 966.4 1660.1 966.5C1663.4 966.5 1665.9 966.5 1668.1 965.7C1670.3 964.8 1671.9 963.2 1673.3 961.3C1674.6 959.4 1675.3 957.5 1676.1 954.4C1677.0 951.4 1677.8 946.8 1678.4 943.0C1679.1 939.2 1679.1 939.2 1680.1 931.6C1681.2 923.9 1683.2 908.7 1684.7 897.2C1686.2 885.8 1687.9 872.4 1689.3 862.9C1690.7 853.4 1692.6 849.0 1693.3 840.0C1694.0 831.0 1692.1 817.2 1693.2 808.8C1694.4 800.3 1698.1 794.7 1700.1 789.3C1702.1 784.0 1703.4 781.1 1705.3 776.7C1707.2 772.4 1709.4 767.2 1711.6 763.0C1713.8 758.8 1716.6 757.3 1718.4 751.6C1720.2 745.8 1721.2 736.3 1722.4 728.7C1723.7 721.0 1724.7 713.4 1725.9 705.8C1727.0 698.1 1728.1 690.5 1729.3 682.9C1730.5 675.3 1731.6 669.5 1733.0 660.0C1734.4 650.5 1736.9 631.6 1737.7 625.9"/>
<path class="c" stroke="#ff0000" style="stroke-width:11.0" d="M652.3 1123.0C653.9 1116.5 654.0 1114.8 654.9 1110.9C655.9 1107.0 656.8 1103.3 658.0 1099.4C659.1 1095.6 660.4 1091.8 661.8 1088.0C663.2 1084.1 664.8 1079.7 666.2 1076.5C667.6 1073.3 668.8 1071.4 670.2 1068.8C671.7 1066.3 673.2 1063.5 675.0 1061.2C676.7 1058.8 678.6 1056.6 680.5 1054.7C682.5 1052.8 684.4 1051.4 686.7 1049.7C689.0 1048.1 691.8 1046.2 694.3 1044.7C696.9 1043.3 699.0 1042.1 702.0 1040.9C704.9 1039.7 708.3 1038.5 711.9 1037.5C715.5 1036.5 718.9 1035.6 723.4 1034.8C727.8 1034.0 733.6 1033.5 738.7 1032.9C743.8 1032.3 749.5 1031.9 754.0 1031.4C758.4 1030.8 761.6 1030.3 765.4 1029.4C769.3 1028.6 772.6 1027.7 776.9 1026.4C781.3 1025.1 781.5 1024.7 791.6 1021.8C801.7 1018.9 824.9 1012.0 837.2 1009.1"/>
<path class="c" stroke="#ff0000" style="stroke-width:11.8" d="M837.2 1009.1C849.6 1006.2 856.3 1006.3 865.8 1004.2C875.4 1002.2 884.9 999.2 894.4 996.8C904.0 994.4 913.5 991.5 923.1 989.6C932.6 987.7 942.1 986.8 951.7 985.4C961.2 983.9 970.7 982.8 980.3 981.1C989.8 979.3 1001.7 976.5 1008.9 974.6C1016.1 972.7 1018.4 971.6 1023.2 969.6C1028.0 967.7 1032.7 965.4 1037.5 962.9C1042.3 960.3 1048.1 956.8 1051.8 954.3C1055.6 951.8 1056.3 951.3 1060.0 948.0C1063.7 944.6 1069.5 937.9 1074.3 934.4C1079.1 930.8 1085.0 928.1 1088.6 926.8C1092.2 925.4 1093.4 926.2 1095.8 926.2C1098.1 926.2 1099.3 925.3 1102.9 926.8C1106.5 928.3 1112.5 931.9 1117.2 935.1C1122.0 938.2 1126.8 942.4 1131.5 945.8C1136.3 949.3 1141.1 952.8 1145.8 955.8C1150.6 958.8 1155.4 961.3 1160.1 963.7C1164.9 966.1 1169.7 968.5 1174.4 970.1C1179.2 971.8 1184.0 972.7 1188.8 973.7C1193.5 974.7 1195.9 975.1 1203.1 976.1C1210.2 977.2 1222.1 978.9 1231.7 980.1C1241.2 981.4 1250.7 982.5 1260.3 983.6C1269.8 984.7 1279.4 986.0 1288.9 986.9C1298.4 987.8 1308.0 988.5 1317.5 989.0C1327.0 989.6 1332.8 989.8 1346.1 990.2C1359.4 990.5 1379.2 991.3 1397.2 991.2C1415.3 991.0 1440.1 990.1 1454.4 989.0C1468.8 987.9 1475.9 986.0 1483.1 984.7C1490.2 983.4 1492.6 982.9 1497.4 981.3C1502.1 979.7 1508.1 977.2 1511.7 975.1C1515.3 973.1 1516.4 971.6 1518.8 969.0C1521.2 966.4 1523.6 963.1 1526.0 959.4C1528.4 955.7 1530.7 950.8 1533.1 946.5C1535.5 942.2 1537.9 936.7 1540.3 933.6C1542.7 930.5 1545.1 929.1 1547.4 927.9C1549.8 926.7 1552.2 926.6 1554.6 926.5C1557.0 926.4 1559.4 926.5 1561.7 927.2C1564.1 927.9 1565.3 928.3 1568.9 930.8C1572.5 933.3 1578.4 938.6 1583.2 942.2C1588.0 945.9 1592.7 949.9 1597.5 952.7C1602.3 955.5 1607.0 957.3 1611.8 959.1C1616.6 960.9 1621.4 962.2 1626.1 963.4C1630.8 964.6 1636.2 965.9 1640.0 966.3C1643.8 966.6 1645.3 965.3 1648.7 965.3C1652.0 965.4 1656.9 966.4 1660.1 966.5C1663.4 966.5 1665.9 966.5 1668.1 965.7"/>
<path class="c" stroke="#ff0000" d="M1737.7 625.9C1736.8 631.6 1734.1 650.5 1732.7 660.0C1731.4 669.5 1730.7 675.3 1729.6 682.9C1728.6 690.5 1727.4 698.1 1726.2 705.8C1725.1 713.4 1723.9 721.0 1722.8 728.7C1721.7 736.3 1720.5 743.9 1719.6 751.6C1718.6 759.2 1718.1 766.8 1717.1 774.4C1716.0 782.1 1714.4 789.7 1713.3 797.3C1712.2 805.0 1711.5 812.4 1710.4 820.2C1709.4 828.0 1708.2 836.9 1707.0 844.0C1705.8 851.1 1704.4 855.9 1703.0 862.9C1701.7 869.8 1700.4 878.1 1699.0 885.8C1697.7 893.4 1696.4 901.0 1695.0 908.7C1693.7 916.3 1692.4 923.9 1691.0 931.6C1689.6 939.2 1687.7 948.7 1686.4 954.4C1685.2 960.2 1684.6 962.1 1683.6 965.9C1682.5 969.7 1681.5 973.5 1680.1 977.3C1678.8 981.2 1677.3 985.0 1675.6 988.8C1673.8 992.6 1672.4 995.4 1669.8 1000.2C1667.2 1005.1 1663.0 1014.2 1660.0 1017.7C1657.0 1021.3 1654.4 1020.6 1651.6 1021.7C1648.8 1022.9 1646.3 1023.6 1643.0 1024.6C1639.7 1025.7 1635.4 1026.6 1631.6 1028.0C1627.7 1029.5 1623.0 1031.9 1620.1 1033.2C1617.3 1034.5 1616.4 1034.8 1614.4 1036.1C1612.4 1037.3 1610.0 1038.7 1607.9 1040.5C1605.8 1042.2 1604.5 1044.2 1601.8 1046.4C1599.1 1048.5 1594.3 1053.9 1591.5 1053.4C1588.6 1052.9 1586.6 1047.0 1584.6 1043.5C1582.6 1040.0 1581.5 1036.1 1579.5 1032.6C1577.5 1029.2 1575.3 1025.6 1572.6 1022.9C1569.9 1020.2 1566.5 1018.2 1563.5 1016.6C1560.4 1015.0 1558.2 1014.3 1554.3 1013.4C1550.4 1012.6 1544.7 1011.8 1540.0 1011.4C1535.3 1011.1 1533.1 1011.4 1526.0 1011.2C1518.9 1011.0 1528.4 1010.4 1497.4 1010.2C1466.4 1010.0 1389.1 1009.9 1340.0 1009.9C1290.9 1009.9 1233.0 1010.2 1203.1 1010.3C1173.1 1010.4 1172.1 1010.2 1160.1 1010.6C1148.2 1011.0 1138.7 1011.9 1131.5 1012.8C1124.4 1013.6 1124.4 1014.3 1117.2 1015.6C1110.1 1017.0 1098.1 1018.7 1088.6 1020.9C1079.1 1023.1 1066.1 1026.9 1060.0 1028.8C1053.9 1030.7 1055.6 1030.7 1051.8 1032.3C1048.1 1033.8 1042.3 1035.9 1037.5 1038.0C1032.7 1040.1 1028.5 1043.0 1023.2 1045.2C1018.0 1047.3 1011.3 1048.5 1006.0 1051.2C1000.8 1053.8 996.5 1057.4 991.7 1061.2C987.0 1065.0 982.2 1069.5 977.4 1074.0C972.7 1078.6 967.9 1083.3 963.1 1088.4C958.4 1093.4 953.5 1099.0 948.8 1104.1C944.2 1109.2 939.5 1114.7 935.2 1118.8C930.9 1123.0 926.3 1127.2 923.1 1129.1C919.8 1131.0 918.3 1130.3 915.9 1130.3C913.5 1130.2 911.8 1130.9 908.8 1128.8C905.7 1126.7 901.8 1122.0 897.6 1117.7C893.4 1113.4 888.4 1108.1 883.7 1103.1C879.0 1098.0 874.2 1092.6 869.4 1087.4C864.6 1082.1 859.9 1076.6 855.1 1071.6C850.3 1066.7 846.6 1062.4 840.4 1057.6C834.2 1052.8 824.4 1046.4 817.9 1043.0C811.4 1039.6 807.9 1038.5 801.5 1037.3C795.0 1036.1 784.5 1036.2 779.1 1035.9C773.8 1035.7 772.0 1035.6 769.2 1035.9C766.4 1036.3 764.6 1037.1 762.3 1038.2C760.0 1039.4 758.2 1040.9 755.4 1042.8C752.7 1044.7 749.5 1046.7 745.9 1049.7C742.3 1052.8 737.6 1056.7 733.9 1061.2C730.2 1065.6 727.3 1070.1 723.7 1076.5C720.0 1082.9 715.0 1091.7 712.0 1099.4C709.0 1107.2 708.3 1114.6 705.5 1123.0C702.7 1131.4 700.0 1136.0 695.3 1150.0C690.5 1164.0 682.9 1188.1 676.9 1207.2C671.0 1226.3 665.3 1245.8 659.8 1264.4C654.2 1283.1 647.1 1307.9 643.7 1319.4C640.4 1330.8 640.2 1330.8 639.5 1333.1"/>
<path class="c" stroke="#ff0000" style="stroke-width:11.8" d="M1660.0 1017.7C1657.0 1021.3 1654.4 1020.6 1651.6 1021.7C1648.8 1022.9 1646.3 1023.6 1643.0 1024.6C1639.7 1025.7 1635.4 1026.6 1631.6 1028.0C1627.7 1029.5 1623.0 1031.9 1620.1 1033.2C1617.3 1034.5 1616.4 1034.8 1614.4 1036.1C1612.4 1037.3 1610.0 1038.7 1607.9 1040.5C1605.8 1042.2 1604.5 1044.2 1601.8 1046.4C1599.1 1048.5 1594.3 1053.9 1591.5 1053.4C1588.6 1052.9 1586.6 1047.0 1584.6 1043.5C1582.6 1040.0 1581.5 1036.1 1579.5 1032.6C1577.5 1029.2 1575.3 1025.6 1572.6 1022.9C1569.9 1020.2 1566.5 1018.2 1563.5 1016.6C1560.4 1015.0 1558.2 1014.3 1554.3 1013.4C1550.4 1012.6 1544.7 1011.8 1540.0 1011.4"/>
<path class="c" stroke="#ff0000" style="stroke-width:10.6" d="M1540.0 1011.4C1535.3 1011.1 1533.1 1011.4 1526.0 1011.2C1518.9 1011.0 1528.4 1010.4 1497.4 1010.2C1466.4 1010.0 1389.1 1009.9 1340.0 1009.9C1290.9 1009.9 1233.0 1010.2 1203.1 1010.3C1173.1 1010.4 1172.1 1010.2 1160.1 1010.6C1148.2 1011.0 1138.7 1011.9 1131.5 1012.8"/>
<path class="c" stroke="#ff0000" style="stroke-width:11.8" d="M1131.5 1012.8C1124.4 1013.6 1124.4 1014.3 1117.2 1015.6C1110.1 1017.0 1098.1 1018.7 1088.6 1020.9C1079.1 1023.1 1066.1 1026.9 1060.0 1028.8C1053.9 1030.7 1055.6 1030.7 1051.8 1032.3C1048.1 1033.8 1042.3 1035.9 1037.5 1038.0C1032.7 1040.1 1028.5 1043.0 1023.2 1045.2C1018.0 1047.3 1011.3 1048.5 1006.0 1051.2C1000.8 1053.8 996.5 1057.4 991.7 1061.2C987.0 1065.0 982.2 1069.5 977.4 1074.0C972.7 1078.6 967.9 1083.3 963.1 1088.4C958.4 1093.4 953.5 1099.0 948.8 1104.1C944.2 1109.2 939.5 1114.7 935.2 1118.8C930.9 1123.0 926.3 1127.2 923.1 1129.1C919.8 1131.0 918.3 1130.3 915.9 1130.3C913.5 1130.2 911.8 1130.9 908.8 1128.8C905.7 1126.7 901.8 1122.0 897.6 1117.7C893.4 1113.4 888.4 1108.1 883.7 1103.1C879.0 1098.0 874.2 1092.6 869.4 1087.4C864.6 1082.1 859.9 1076.6 855.1 1071.6C850.3 1066.7 846.6 1062.4 840.4 1057.6C834.2 1052.8 824.4 1046.4 817.9 1043.0C811.4 1039.6 807.9 1038.5 801.5 1037.3"/>
<path class="c" stroke="#ff0000" style="stroke-width:11.0" d="M801.5 1037.3C795.0 1036.1 784.5 1036.2 779.1 1035.9C773.8 1035.7 772.0 1035.6 769.2 1035.9C766.4 1036.3 764.6 1037.1 762.3 1038.2C760.0 1039.4 758.2 1040.9 755.4 1042.8C752.7 1044.7 749.5 1046.7 745.9 1049.7C742.3 1052.8 737.6 1056.7 733.9 1061.2C730.2 1065.6 727.3 1070.1 723.7 1076.5C720.0 1082.9 715.0 1091.7 712.0 1099.4C709.0 1107.2 708.3 1114.6 705.5 1123.0"/>
<path class="c" stroke="#000000" d="M621.8 1333.1C622.2 1330.8 623.0 1327.0 624.1 1319.4C625.1 1311.8 626.8 1296.5 628.1 1287.3C629.3 1278.2 630.4 1272.1 631.5 1264.4C632.6 1256.8 633.8 1249.2 634.7 1241.6C635.7 1233.9 636.4 1226.3 637.2 1218.7C638.0 1211.0 638.8 1203.4 639.5 1195.8C640.2 1188.1 641.0 1180.5 641.6 1172.9C642.2 1165.3 642.1 1158.2 643.2 1150.0C644.3 1141.8 646.5 1131.8 648.0 1124.0C649.6 1116.2 651.0 1109.7 652.2 1103.3C653.4 1096.8 654.0 1090.8 655.3 1085.0C656.7 1079.3 658.6 1073.0 660.2 1068.8C661.8 1064.6 663.1 1063.4 665.1 1059.9C667.1 1056.4 669.8 1051.4 672.4 1047.9C675.1 1044.3 678.0 1041.1 681.1 1038.5C684.1 1035.8 687.6 1033.8 690.8 1032.1C694.0 1030.5 697.6 1029.3 700.4 1028.5C703.1 1027.6 703.7 1027.0 707.2 1026.8C710.8 1026.5 717.4 1026.7 721.8 1026.8C726.1 1026.8 729.4 1026.9 733.3 1027.2C737.1 1027.4 740.9 1028.1 744.7 1028.5C748.5 1028.8 752.4 1029.2 756.2 1029.1C760.0 1028.9 763.8 1028.4 767.7 1027.5C771.5 1026.7 775.4 1025.0 779.1 1023.9C782.9 1022.7 780.3 1023.0 790.0 1020.4C799.7 1017.8 824.6 1011.2 837.2 1008.4C849.9 1005.6 856.3 1005.0 865.8 1003.7C875.4 1002.3 884.9 1001.1 894.4 1000.1C904.0 999.1 913.5 998.3 923.1 997.5C932.6 996.7 942.1 996.0 951.7 995.1C961.2 994.2 970.7 993.3 980.3 992.2C989.8 991.1 999.4 990.3 1008.9 988.6C1018.4 987.0 1029.0 983.9 1037.5 982.2C1046.0 980.5 1053.9 980.1 1060.0 978.7C1066.1 977.3 1069.5 974.8 1074.3 973.7C1079.1 972.6 1083.8 972.2 1088.6 971.8C1093.4 971.5 1098.1 971.7 1102.9 971.8C1107.7 972.0 1112.5 972.4 1117.2 973.0C1122.0 973.5 1126.8 974.4 1131.5 975.1C1136.3 975.9 1141.1 976.6 1145.8 977.3C1150.6 978.0 1155.4 978.7 1160.1 979.4C1164.9 980.2 1169.7 981.1 1174.4 981.9C1179.2 982.6 1184.0 983.4 1188.8 984.1C1193.5 984.9 1198.3 985.8 1203.1 986.6C1207.8 987.3 1212.6 988.0 1217.4 988.7C1222.1 989.4 1224.5 990.0 1231.7 990.9C1238.8 991.7 1250.7 993.0 1260.3 993.7C1269.8 994.5 1279.4 994.9 1288.9 995.3C1298.4 995.7 1308.0 995.9 1317.5 996.0C1327.0 996.2 1332.8 996.3 1346.1 996.3C1359.4 996.3 1379.2 996.6 1397.2 996.2C1415.3 995.7 1440.1 994.7 1454.4 993.7C1468.8 992.7 1475.9 991.2 1483.1 990.2C1490.2 989.1 1492.8 988.4 1497.4 987.3C1501.9 986.2 1507.1 984.6 1510.2 983.3C1513.3 982.0 1514.1 981.0 1516.0 979.4C1517.8 977.8 1519.5 976.1 1521.5 973.6C1523.6 971.0 1526.0 967.9 1528.3 964.3C1530.6 960.6 1533.3 955.0 1535.3 951.5C1537.3 948.1 1538.0 945.8 1540.3 943.5C1542.6 941.2 1546.0 938.7 1548.9 937.8C1551.7 936.9 1554.7 937.5 1557.5 938.4C1560.2 939.2 1562.8 940.8 1565.3 942.8C1567.9 944.8 1569.2 947.2 1572.8 950.1C1576.3 953.0 1582.2 957.6 1586.8 960.4C1591.4 963.2 1596.0 965.2 1600.4 967.0C1604.8 968.7 1608.8 969.8 1613.2 971.0C1617.7 972.1 1622.4 973.0 1626.8 973.8C1631.3 974.7 1636.4 975.4 1640.0 975.9C1643.6 976.3 1644.7 976.5 1648.7 976.8C1652.6 977.0 1660.2 977.8 1663.5 977.3C1666.9 976.9 1667.4 975.8 1668.7 973.9C1670.0 972.0 1670.8 969.1 1671.6 965.9C1672.3 962.7 1672.6 960.2 1673.3 954.4C1674.0 948.7 1674.7 941.1 1675.7 931.6C1676.7 922.0 1678.0 908.7 1679.1 897.2C1680.3 885.8 1681.5 872.4 1682.5 862.9C1683.6 853.4 1684.4 847.1 1685.4 840.0C1686.4 832.9 1687.6 827.3 1688.7 820.2C1689.7 813.1 1690.6 803.4 1691.5 797.3C1692.5 791.2 1693.4 787.0 1694.4 783.6C1695.3 780.2 1695.9 778.7 1697.3 776.7C1698.6 774.7 1700.7 773.2 1702.4 771.6C1704.1 770.0 1706.1 768.8 1707.6 767.0C1709.0 765.2 1710.0 763.3 1711.0 760.7C1712.0 758.1 1712.2 758.8 1713.4 751.6C1714.6 744.3 1716.4 728.7 1718.0 717.2C1719.5 705.8 1721.3 692.4 1722.5 682.9C1723.8 673.4 1724.4 667.8 1725.4 660.0C1726.4 652.2 1727.7 644.0 1728.7 636.2C1729.8 628.5 1730.7 621.0 1731.6 613.3C1732.4 605.7 1733.2 597.1 1733.9 590.4C1734.5 583.8 1735.1 578.5 1735.6 573.3C1736.1 568.0 1736.5 561.4 1736.7 559.0"/>
<path class="c" stroke="#000000" style="stroke-width:11.0" d="M648.0 1124.0C649.6 1116.2 651.0 1109.7 652.2 1103.3C653.4 1096.8 654.0 1090.8 655.3 1085.0C656.7 1079.3 658.6 1073.0 660.2 1068.8C661.8 1064.6 663.1 1063.4 665.1 1059.9C667.1 1056.4 669.8 1051.4 672.4 1047.9C675.1 1044.3 678.0 1041.1 681.1 1038.5C684.1 1035.8 687.6 1033.8 690.8 1032.1C694.0 1030.5 697.6 1029.3 700.4 1028.5C703.1 1027.6 703.7 1027.0 707.2 1026.8C710.8 1026.5 717.4 1026.7 721.8 1026.8C726.1 1026.8 729.4 1026.9 733.3 1027.2C737.1 1027.4 740.9 1028.1 744.7 1028.5C748.5 1028.8 752.4 1029.2 756.2 1029.1C760.0 1028.9 763.8 1028.4 767.7 1027.5C771.5 1026.7 775.4 1025.0 779.1 1023.9C782.9 1022.7 780.3 1023.0 790.0 1020.4C799.7 1017.8 824.6 1011.2 837.2 1008.4"/>
<path class="c" stroke="#000000" style="stroke-width:11.8" d="M837.2 1008.4C849.9 1005.6 856.3 1005.0 865.8 1003.7C875.4 1002.3 884.9 1001.1 894.4 1000.1C904.0 999.1 913.5 998.3 923.1 997.5C932.6 996.7 942.1 996.0 951.7 995.1C961.2 994.2 970.7 993.3 980.3 992.2C989.8 991.1 999.4 990.3 1008.9 988.6C1018.4 987.0 1029.0 983.9 1037.5 982.2C1046.0 980.5 1053.9 980.1 1060.0 978.7C1066.1 977.3 1069.5 974.8 1074.3 973.7C1079.1 972.6 1083.8 972.2 1088.6 971.8C1093.4 971.5 1098.1 971.7 1102.9 971.8C1107.7 972.0 1112.5 972.4 1117.2 973.0C1122.0 973.5 1126.8 974.4 1131.5 975.1C1136.3 975.9 1141.1 976.6 1145.8 977.3C1150.6 978.0 1155.4 978.7 1160.1 979.4C1164.9 980.2 1169.7 981.1 1174.4 981.9C1179.2 982.6 1184.0 983.4 1188.8 984.1C1193.5 984.9 1198.3 985.8 1203.1 986.6C1207.8 987.3 1212.6 988.0 1217.4 988.7C1222.1 989.4 1224.5 990.0 1231.7 990.9C1238.8 991.7 1250.7 993.0 1260.3 993.7C1269.8 994.5 1279.4 994.9 1288.9 995.3C1298.4 995.7 1308.0 995.9 1317.5 996.0C1327.0 996.2 1332.8 996.3 1346.1 996.3C1359.4 996.3 1379.2 996.6 1397.2 996.2C1415.3 995.7 1440.1 994.7 1454.4 993.7C1468.8 992.7 1475.9 991.2 1483.1 990.2C1490.2 989.1 1492.8 988.4 1497.4 987.3C1501.9 986.2 1507.1 984.6 1510.2 983.3C1513.3 982.0 1514.1 981.0 1516.0 979.4C1517.8 977.8 1519.5 976.1 1521.5 973.6C1523.6 971.0 1526.0 967.9 1528.3 964.3C1530.6 960.6 1533.3 955.0 1535.3 951.5C1537.3 948.1 1538.0 945.8 1540.3 943.5C1542.6 941.2 1546.0 938.7 1548.9 937.8C1551.7 936.9 1554.7 937.5 1557.5 938.4C1560.2 939.2 1562.8 940.8 1565.3 942.8C1567.9 944.8 1569.2 947.2 1572.8 950.1C1576.3 953.0 1582.2 957.6 1586.8 960.4C1591.4 963.2 1596.0 965.2 1600.4 967.0C1604.8 968.7 1608.8 969.8 1613.2 971.0C1617.7 972.1 1622.4 973.0 1626.8 973.8C1631.3 974.7 1636.4 975.4 1640.0 975.9C1643.6 976.3 1644.7 976.5 1648.7 976.8C1652.6 977.0 1660.2 977.8 1663.5 977.3C1666.9 976.9 1667.4 975.8 1668.7 973.9"/>
<path class="c" stroke="#000000" d="M1736.7 559.0C1736.6 561.4 1736.2 568.0 1735.8 573.3C1735.4 578.5 1734.9 583.8 1734.2 590.4C1733.6 597.1 1732.8 605.7 1731.9 613.3C1731.1 621.0 1730.3 628.5 1729.3 636.2C1728.3 644.0 1727.0 652.2 1726.0 660.0C1724.9 667.8 1724.2 673.4 1723.0 682.9C1721.8 692.4 1720.0 705.8 1718.7 717.2C1717.3 728.7 1716.2 740.1 1715.0 751.6C1713.8 763.0 1712.6 774.4 1711.6 785.9C1710.5 797.3 1709.5 811.2 1708.7 820.2C1707.8 829.2 1708.2 829.1 1706.5 840.0C1704.8 850.9 1701.1 870.5 1698.5 885.8C1695.8 901.0 1692.5 920.1 1690.4 931.6C1688.3 943.0 1687.5 946.8 1685.9 954.4C1684.2 962.1 1682.2 971.6 1680.7 977.3C1679.2 983.1 1678.2 985.0 1676.7 988.8C1675.2 992.6 1673.6 996.6 1671.6 1000.2C1669.6 1003.9 1666.6 1007.2 1664.7 1010.5C1662.8 1013.8 1662.0 1018.1 1660.0 1020.0C1658.0 1021.9 1655.3 1021.4 1652.7 1021.9C1650.1 1022.4 1647.7 1022.5 1644.4 1023.0C1641.2 1023.5 1636.9 1024.2 1633.3 1025.2C1629.7 1026.1 1626.3 1027.0 1622.8 1028.8C1619.3 1030.6 1614.7 1034.2 1612.2 1036.2C1609.7 1038.1 1609.3 1038.8 1607.9 1040.4C1606.4 1042.0 1604.9 1043.6 1603.5 1045.8C1602.1 1047.9 1600.9 1050.5 1599.5 1053.2C1598.1 1055.9 1596.5 1059.2 1594.9 1061.8C1593.4 1064.4 1591.9 1066.9 1590.4 1068.7C1588.8 1070.4 1587.1 1072.4 1585.5 1072.2C1583.9 1072.0 1582.1 1069.7 1580.9 1067.6C1579.6 1065.6 1579.0 1062.9 1577.9 1059.9C1576.8 1056.9 1575.7 1053.2 1574.3 1049.5C1572.9 1045.8 1571.3 1041.6 1569.5 1037.8C1567.7 1033.9 1566.3 1029.8 1563.6 1026.5C1560.8 1023.2 1557.0 1020.0 1553.0 1017.7C1549.1 1015.5 1544.5 1013.9 1540.0 1012.9C1535.5 1011.9 1533.1 1012.1 1526.0 1011.6C1518.9 1011.2 1528.4 1010.5 1497.4 1010.2C1466.4 1009.9 1389.1 1009.8 1340.0 1009.8C1290.9 1009.7 1233.0 1009.9 1203.1 1009.9C1173.1 1009.9 1172.1 1009.9 1160.1 1010.0C1148.2 1010.2 1138.7 1010.4 1131.5 1010.8C1124.4 1011.1 1124.4 1011.3 1117.2 1011.9C1110.1 1012.5 1098.1 1013.5 1088.6 1014.5C1079.1 1015.5 1066.1 1017.4 1060.0 1018.1C1053.9 1018.7 1055.6 1017.8 1051.8 1018.4C1048.1 1019.0 1042.3 1020.3 1037.5 1021.5C1032.7 1022.8 1028.0 1024.2 1023.2 1025.8C1018.4 1027.5 1013.7 1029.5 1008.9 1031.6C1004.1 1033.6 999.4 1035.7 994.6 1038.0C989.8 1040.3 985.1 1042.5 980.3 1045.2C975.5 1047.8 970.7 1051.0 966.0 1053.7C961.2 1056.5 956.4 1059.3 951.7 1061.6C946.9 1063.9 942.1 1065.8 937.4 1067.3C932.6 1068.8 926.6 1069.9 923.1 1070.5C919.5 1071.1 918.3 1070.9 915.9 1070.9C913.5 1070.9 912.3 1070.9 908.8 1070.5C905.2 1070.0 899.2 1069.2 894.4 1068.0C889.7 1066.9 884.9 1065.3 880.1 1063.7C875.4 1062.2 870.6 1060.6 865.8 1058.7C861.1 1056.8 856.3 1054.4 851.5 1052.3C846.8 1050.2 842.0 1047.9 837.2 1045.9C832.5 1043.8 827.7 1041.9 822.9 1040.1C818.1 1038.4 813.4 1036.6 808.6 1035.1C803.8 1033.7 799.2 1031.6 794.3 1031.6C789.4 1031.5 783.6 1034.3 779.1 1034.8C774.7 1035.3 771.5 1034.0 767.7 1034.4C763.8 1034.9 759.5 1036.1 756.2 1037.5C752.9 1038.9 750.5 1040.8 747.8 1042.8C745.1 1044.9 742.7 1046.7 740.1 1049.7C737.5 1052.8 734.6 1056.7 732.1 1061.2C729.6 1065.6 728.1 1070.1 725.2 1076.5C722.4 1082.9 717.7 1091.7 714.9 1099.4C712.1 1107.2 710.8 1114.6 708.2 1123.0C705.6 1131.4 703.4 1136.0 699.3 1150.0C695.2 1164.0 688.6 1188.1 683.6 1207.2C678.6 1226.3 673.4 1245.8 669.3 1264.4C665.2 1283.1 661.3 1307.9 659.0 1319.4C656.7 1330.8 656.1 1330.8 655.5 1333.1"/>
<path class="c" stroke="#000000" style="stroke-width:11.8" d="M1660.0 1020.0C1658.0 1021.9 1655.3 1021.4 1652.7 1021.9C1650.1 1022.4 1647.7 1022.5 1644.4 1023.0C1641.2 1023.5 1636.9 1024.2 1633.3 1025.2C1629.7 1026.1 1626.3 1027.0 1622.8 1028.8C1619.3 1030.6 1614.7 1034.2 1612.2 1036.2C1609.7 1038.1 1609.3 1038.8 1607.9 1040.4C1606.4 1042.0 1604.9 1043.6 1603.5 1045.8C1602.1 1047.9 1600.9 1050.5 1599.5 1053.2C1598.1 1055.9 1596.5 1059.2 1594.9 1061.8C1593.4 1064.4 1591.9 1066.9 1590.4 1068.7C1588.8 1070.4 1587.1 1072.4 1585.5 1072.2C1583.9 1072.0 1582.1 1069.7 1580.9 1067.6C1579.6 1065.6 1579.0 1062.9 1577.9 1059.9C1576.8 1056.9 1575.7 1053.2 1574.3 1049.5C1572.9 1045.8 1571.3 1041.6 1569.5 1037.8C1567.7 1033.9 1566.3 1029.8 1563.6 1026.5C1560.8 1023.2 1557.0 1020.0 1553.0 1017.7C1549.1 1015.5 1544.5 1013.9 1540.0 1012.9"/>
<path class="c" stroke="#000000" style="stroke-width:10.6" d="M1540.0 1012.9C1535.5 1011.9 1533.1 1012.1 1526.0 1011.6C1518.9 1011.2 1528.4 1010.5 1497.4 1010.2C1466.4 1009.9 1389.1 1009.8 1340.0 1009.8C1290.9 1009.7 1233.0 1009.9 1203.1 1009.9C1173.1 1009.9 1172.1 1009.9 1160.1 1010.0C1148.2 1010.2 1138.7 1010.4 1131.5 1010.8"/>
<path class="c" stroke="#000000" style="stroke-width:11.8" d="M1131.5 1010.8C1124.4 1011.1 1124.4 1011.3 1117.2 1011.9C1110.1 1012.5 1098.1 1013.5 1088.6 1014.5C1079.1 1015.5 1066.1 1017.4 1060.0 1018.1C1053.9 1018.7 1055.6 1017.8 1051.8 1018.4C1048.1 1019.0 1042.3 1020.3 1037.5 1021.5C1032.7 1022.8 1028.0 1024.2 1023.2 1025.8C1018.4 1027.5 1013.7 1029.5 1008.9 1031.6C1004.1 1033.6 999.4 1035.7 994.6 1038.0C989.8 1040.3 985.1 1042.5 980.3 1045.2C975.5 1047.8 970.7 1051.0 966.0 1053.7C961.2 1056.5 956.4 1059.3 951.7 1061.6C946.9 1063.9 942.1 1065.8 937.4 1067.3C932.6 1068.8 926.6 1069.9 923.1 1070.5C919.5 1071.1 918.3 1070.9 915.9 1070.9C913.5 1070.9 912.3 1070.9 908.8 1070.5C905.2 1070.0 899.2 1069.2 894.4 1068.0C889.7 1066.9 884.9 1065.3 880.1 1063.7C875.4 1062.2 870.6 1060.6 865.8 1058.7C861.1 1056.8 856.3 1054.4 851.5 1052.3C846.8 1050.2 842.0 1047.9 837.2 1045.9C832.5 1043.8 827.7 1041.9 822.9 1040.1C818.1 1038.4 813.4 1036.6 808.6 1035.1C803.8 1033.7 799.2 1031.6 794.3 1031.6"/>
<path class="c" stroke="#000000" style="stroke-width:11.0" d="M794.3 1031.6C789.4 1031.5 783.6 1034.3 779.1 1034.8C774.7 1035.3 771.5 1034.0 767.7 1034.4C763.8 1034.9 759.5 1036.1 756.2 1037.5C752.9 1038.9 750.5 1040.8 747.8 1042.8C745.1 1044.9 742.7 1046.7 740.1 1049.7C737.5 1052.8 734.6 1056.7 732.1 1061.2C729.6 1065.6 728.1 1070.1 725.2 1076.5C722.4 1082.9 717.7 1091.7 714.9 1099.4C712.1 1107.2 710.8 1114.6 708.2 1123.0"/>
<path class="c" stroke="#000000" d="M683.6 1207.2C681.2 1216.8 672.8 1251.1 669.3 1264.4C665.7 1277.8 664.3 1280.7 662.4 1287.3C660.5 1294.0 659.1 1299.2 657.8 1304.5C656.5 1309.8 655.6 1314.6 654.6 1319.4C653.7 1324.2 652.5 1330.8 652.1 1333.1"/>
<path class="c" stroke="#00ffff" d="M613.2 1333.1C613.6 1330.8 614.5 1325.1 615.5 1319.4C616.4 1313.7 617.4 1307.9 618.9 1298.8C620.4 1289.6 622.7 1275.9 624.6 1264.4C626.5 1253.0 628.5 1241.6 630.4 1230.1C632.3 1218.7 634.5 1205.3 636.1 1195.8C637.7 1186.2 638.8 1180.5 640.1 1172.9C641.3 1165.3 641.8 1158.3 643.5 1150.0C645.3 1141.7 649.0 1129.5 650.7 1123.0C652.3 1116.5 652.4 1114.8 653.3 1110.9C654.3 1107.0 655.2 1103.3 656.4 1099.4C657.5 1095.6 659.0 1091.8 660.2 1088.0C661.4 1084.1 662.6 1079.7 663.8 1076.5C665.0 1073.3 666.2 1071.4 667.6 1068.8C669.1 1066.3 670.7 1063.6 672.4 1061.2C674.2 1058.8 676.3 1056.4 678.3 1054.5C680.4 1052.5 682.4 1051.1 684.8 1049.5C687.1 1047.8 690.0 1046.0 692.6 1044.6C695.2 1043.2 697.4 1042.0 700.4 1040.9C703.3 1039.8 706.7 1038.8 710.3 1037.9C713.9 1037.0 717.3 1036.2 721.8 1035.6C726.2 1034.9 732.0 1034.5 737.1 1034.0C742.2 1033.6 747.9 1033.5 752.4 1032.9C756.8 1032.3 760.0 1031.6 763.8 1030.6C767.7 1029.6 771.0 1028.2 775.3 1026.8C779.7 1025.3 779.7 1024.8 790.0 1022.0C800.3 1019.1 824.6 1012.3 837.2 1009.4C849.9 1006.5 856.3 1005.9 865.8 1004.4C875.4 1002.8 884.9 1001.4 894.4 1000.1C904.0 998.8 913.5 997.7 923.1 996.5C932.6 995.3 942.1 994.1 951.7 992.9C961.2 991.7 970.7 991.0 980.3 989.4C989.8 987.7 1001.7 984.6 1008.9 982.9C1016.1 981.2 1018.4 980.7 1023.2 979.3C1028.0 978.0 1032.7 977.1 1037.5 975.1C1042.3 973.0 1048.1 969.7 1051.8 967.2C1055.6 964.7 1056.2 963.6 1060.0 960.0C1063.7 956.5 1069.5 948.9 1074.3 945.8C1079.1 942.7 1085.0 942.1 1088.6 941.2C1092.2 940.4 1093.4 940.6 1095.8 940.8C1098.1 941.0 1099.3 941.3 1102.9 942.7C1106.5 944.0 1112.5 946.4 1117.2 948.7C1122.0 950.9 1126.8 953.8 1131.5 956.1C1136.3 958.4 1141.1 960.4 1145.8 962.3C1150.6 964.1 1155.4 965.6 1160.1 967.0C1164.9 968.4 1169.7 969.7 1174.4 970.8C1179.2 972.0 1184.0 972.9 1188.8 973.7C1193.5 974.5 1195.9 974.8 1203.1 975.9C1210.2 976.9 1222.1 978.6 1231.7 979.9C1241.2 981.1 1250.7 982.2 1260.3 983.3C1269.8 984.4 1279.4 985.7 1288.9 986.6C1298.4 987.5 1308.0 988.2 1317.5 988.7C1327.0 989.3 1332.8 989.5 1346.1 989.9C1359.4 990.2 1379.2 991.1 1397.2 990.9C1415.3 990.7 1440.1 989.8 1454.4 988.7C1468.8 987.7 1475.9 985.7 1483.1 984.4C1490.2 983.1 1492.6 982.5 1497.4 980.9C1502.1 979.2 1508.1 976.6 1511.7 974.4C1515.3 972.3 1516.4 970.7 1518.8 968.0C1521.2 965.2 1523.6 961.8 1526.0 958.0C1528.4 954.2 1530.7 949.5 1533.1 945.1C1535.5 940.7 1537.9 934.8 1540.3 931.5C1542.7 928.2 1545.1 926.4 1547.4 925.1C1549.8 923.8 1552.2 923.7 1554.6 923.6C1557.0 923.6 1559.4 923.8 1561.7 924.6C1564.1 925.5 1565.3 925.9 1568.9 928.6C1572.5 931.3 1578.4 937.0 1583.2 940.8C1588.0 944.6 1592.7 948.7 1597.5 951.5C1602.3 954.4 1607.0 956.2 1611.8 958.0C1616.6 959.8 1621.4 961.1 1626.1 962.3C1630.8 963.5 1636.2 964.7 1640.0 965.1C1643.8 965.5 1645.3 964.6 1648.7 964.7C1652.0 964.9 1657.1 965.9 1660.1 965.9C1663.2 965.9 1665.1 965.7 1667.0 964.7C1668.9 963.8 1670.4 961.9 1671.6 960.2C1672.7 958.5 1673.1 957.3 1673.8 954.4C1674.6 951.6 1675.6 946.8 1676.1 943.0C1676.7 939.2 1676.3 939.2 1677.3 931.6C1678.2 923.9 1680.2 908.7 1681.9 897.2C1683.5 885.8 1685.3 872.4 1687.0 862.9C1688.7 853.4 1690.6 847.1 1691.9 840.0C1693.3 832.9 1693.3 826.4 1695.0 820.2C1696.6 814.1 1699.5 808.8 1701.8 803.1C1704.2 797.3 1707.1 790.7 1709.0 785.9C1710.9 781.1 1711.9 780.2 1713.3 774.4C1714.6 768.7 1716.0 759.2 1717.3 751.6C1718.5 743.9 1719.6 736.3 1720.7 728.7C1721.9 721.0 1723.0 713.4 1724.1 705.8C1725.3 698.1 1726.3 690.5 1727.6 682.9C1728.8 675.3 1730.1 670.2 1731.6 660.0C1733.1 649.9 1735.9 628.3 1736.7 621.9"/>
<path class="c" stroke="#00ffff" style="stroke-width:11.0" d="M650.7 1123.0C652.3 1116.5 652.4 1114.8 653.3 1110.9C654.3 1107.0 655.2 1103.3 656.4 1099.4C657.5 1095.6 659.0 1091.8 660.2 1088.0C661.4 1084.1 662.6 1079.7 663.8 1076.5C665.0 1073.3 666.2 1071.4 667.6 1068.8C669.1 1066.3 670.7 1063.6 672.4 1061.2C674.2 1058.8 676.3 1056.4 678.3 1054.5C680.4 1052.5 682.4 1051.1 684.8 1049.5C687.1 1047.8 690.0 1046.0 692.6 1044.6C695.2 1043.2 697.4 1042.0 700.4 1040.9C703.3 1039.8 706.7 1038.8 710.3 1037.9C713.9 1037.0 717.3 1036.2 721.8 1035.6C726.2 1034.9 732.0 1034.5 737.1 1034.0C742.2 1033.6 747.9 1033.5 752.4 1032.9C756.8 1032.3 760.0 1031.6 763.8 1030.6C767.7 1029.6 771.0 1028.2 775.3 1026.8C779.7 1025.3 779.7 1024.8 790.0 1022.0C800.3 1019.1 824.6 1012.3 837.2 1009.4"/>
<path class="c" stroke="#00ffff" style="stroke-width:11.8" d="M837.2 1009.4C849.9 1006.5 856.3 1005.9 865.8 1004.4C875.4 1002.8 884.9 1001.4 894.4 1000.1C904.0 998.8 913.5 997.7 923.1 996.5C932.6 995.3 942.1 994.1 951.7 992.9C961.2 991.7 970.7 991.0 980.3 989.4C989.8 987.7 1001.7 984.6 1008.9 982.9C1016.1 981.2 1018.4 980.7 1023.2 979.3C1028.0 978.0 1032.7 977.1 1037.5 975.1C1042.3 973.0 1048.1 969.7 1051.8 967.2C1055.6 964.7 1056.2 963.6 1060.0 960.0C1063.7 956.5 1069.5 948.9 1074.3 945.8C1079.1 942.7 1085.0 942.1 1088.6 941.2C1092.2 940.4 1093.4 940.6 1095.8 940.8C1098.1 941.0 1099.3 941.3 1102.9 942.7C1106.5 944.0 1112.5 946.4 1117.2 948.7C1122.0 950.9 1126.8 953.8 1131.5 956.1C1136.3 958.4 1141.1 960.4 1145.8 962.3C1150.6 964.1 1155.4 965.6 1160.1 967.0C1164.9 968.4 1169.7 969.7 1174.4 970.8C1179.2 972.0 1184.0 972.9 1188.8 973.7C1193.5 974.5 1195.9 974.8 1203.1 975.9C1210.2 976.9 1222.1 978.6 1231.7 979.9C1241.2 981.1 1250.7 982.2 1260.3 983.3C1269.8 984.4 1279.4 985.7 1288.9 986.6C1298.4 987.5 1308.0 988.2 1317.5 988.7C1327.0 989.3 1332.8 989.5 1346.1 989.9C1359.4 990.2 1379.2 991.1 1397.2 990.9C1415.3 990.7 1440.1 989.8 1454.4 988.7C1468.8 987.7 1475.9 985.7 1483.1 984.4C1490.2 983.1 1492.6 982.5 1497.4 980.9C1502.1 979.2 1508.1 976.6 1511.7 974.4C1515.3 972.3 1516.4 970.7 1518.8 968.0C1521.2 965.2 1523.6 961.8 1526.0 958.0C1528.4 954.2 1530.7 949.5 1533.1 945.1C1535.5 940.7 1537.9 934.8 1540.3 931.5C1542.7 928.2 1545.1 926.4 1547.4 925.1C1549.8 923.8 1552.2 923.7 1554.6 923.6C1557.0 923.6 1559.4 923.8 1561.7 924.6C1564.1 925.5 1565.3 925.9 1568.9 928.6C1572.5 931.3 1578.4 937.0 1583.2 940.8C1588.0 944.6 1592.7 948.7 1597.5 951.5C1602.3 954.4 1607.0 956.2 1611.8 958.0C1616.6 959.8 1621.4 961.1 1626.1 962.3C1630.8 963.5 1636.2 964.7 1640.0 965.1C1643.8 965.5 1645.3 964.6 1648.7 964.7C1652.0 964.9 1657.1 965.9 1660.1 965.9C1663.2 965.9 1665.1 965.7 1667.0 964.7"/>
<path class="c" stroke="#00ffff" d="M1736.7 621.9C1735.8 628.3 1732.7 649.8 1731.2 660.0C1729.8 670.2 1729.2 675.3 1728.2 682.9C1727.1 690.5 1725.9 698.1 1724.7 705.8C1723.6 713.4 1722.4 721.0 1721.3 728.7C1720.2 736.3 1719.2 743.9 1718.2 751.6C1717.2 759.2 1716.7 766.8 1715.6 774.4C1714.5 782.1 1712.7 789.7 1711.6 797.3C1710.4 805.0 1709.7 812.4 1708.7 820.2C1707.6 828.0 1706.5 836.9 1705.3 844.0C1704.0 851.1 1702.6 855.9 1701.3 862.9C1700.0 869.8 1698.6 878.1 1697.3 885.8C1696.0 893.4 1694.6 901.0 1693.3 908.7C1692.0 916.3 1690.7 923.9 1689.3 931.6C1687.9 939.2 1686.0 948.7 1684.7 954.4C1683.5 960.2 1682.9 962.1 1681.9 965.9C1680.8 969.7 1679.8 973.5 1678.4 977.3C1677.1 981.2 1675.6 985.0 1673.8 988.8C1672.1 992.6 1670.1 996.4 1668.1 1000.2C1666.1 1004.0 1664.1 1008.1 1661.8 1011.7C1659.6 1015.3 1657.6 1019.3 1654.4 1021.7C1651.3 1024.2 1646.8 1024.7 1643.0 1026.3C1639.2 1027.9 1635.4 1029.4 1631.6 1031.2C1627.7 1033.0 1623.5 1035.1 1620.1 1037.2C1616.8 1039.2 1614.1 1041.6 1611.5 1043.5C1609.0 1045.4 1606.8 1046.9 1604.7 1048.6C1602.6 1050.4 1601.2 1052.7 1598.9 1053.8C1596.7 1054.8 1593.5 1056.7 1591.2 1054.9C1588.9 1053.2 1587.1 1047.2 1585.2 1043.5C1583.3 1039.8 1582.1 1036.1 1580.1 1032.6C1578.1 1029.2 1575.9 1025.6 1573.2 1022.9C1570.5 1020.2 1567.2 1018.2 1564.0 1016.6C1560.9 1015.0 1558.3 1014.3 1554.3 1013.4C1550.3 1012.6 1544.7 1011.8 1540.0 1011.4C1535.3 1011.1 1533.1 1011.4 1526.0 1011.2C1518.9 1011.0 1528.4 1010.4 1497.4 1010.2C1466.4 1010.0 1389.1 1009.9 1340.0 1009.9C1290.9 1009.9 1233.0 1010.1 1203.1 1010.2C1173.1 1010.3 1172.1 1010.2 1160.1 1010.5C1148.2 1010.7 1138.7 1011.1 1131.5 1011.6C1124.4 1012.2 1124.4 1012.6 1117.2 1013.8C1110.1 1015.0 1098.1 1016.7 1088.6 1018.8C1079.1 1020.8 1066.1 1024.1 1060.0 1025.9C1053.9 1027.7 1055.6 1028.0 1051.8 1029.4C1048.1 1030.8 1042.3 1032.6 1037.5 1034.4C1032.7 1036.2 1028.0 1037.9 1023.2 1040.1C1018.4 1042.4 1013.7 1045.2 1008.9 1048.0C1004.1 1050.9 999.4 1053.9 994.6 1057.3C989.8 1060.8 985.1 1064.7 980.3 1068.8C975.5 1072.8 970.7 1077.1 966.0 1081.6C961.2 1086.2 956.4 1090.9 951.7 1095.9C946.9 1100.9 942.1 1107.4 937.4 1111.7C932.6 1116.0 926.6 1119.8 923.1 1121.7C919.5 1123.6 918.3 1123.2 915.9 1123.1C913.5 1123.0 912.3 1122.9 908.8 1121.0C905.2 1119.1 899.2 1116.1 894.4 1111.7C889.7 1107.3 884.9 1100.2 880.1 1094.5C875.4 1088.8 873.0 1084.0 865.8 1077.3C858.7 1070.7 846.8 1060.6 837.2 1054.4C827.7 1048.2 816.5 1043.1 808.6 1040.1C800.7 1037.2 794.9 1037.5 790.0 1036.7C785.1 1035.9 782.9 1035.6 779.1 1035.2C775.4 1034.8 771.5 1034.2 767.7 1034.4C763.8 1034.7 759.6 1035.6 756.2 1036.7C752.8 1037.9 750.2 1039.3 747.0 1041.3C743.8 1043.3 740.3 1045.8 737.1 1048.6C733.8 1051.3 730.4 1054.8 727.5 1057.7C724.6 1060.7 722.4 1063.0 719.9 1066.2C717.3 1069.3 714.8 1072.9 712.2 1076.9C709.7 1080.8 707.1 1085.1 704.6 1089.9C702.1 1094.6 699.9 1099.6 697.3 1105.2C694.7 1110.7 692.3 1115.5 688.9 1123.0C685.5 1130.5 681.1 1139.8 677.1 1150.0C673.0 1160.2 668.9 1172.9 664.7 1184.3C660.5 1195.8 656.3 1207.2 652.1 1218.7C647.9 1230.1 642.9 1243.5 639.5 1253.0C636.1 1262.5 634.2 1268.3 631.5 1275.9C628.8 1283.5 625.8 1291.5 623.1 1298.8C620.5 1306.0 617.7 1313.7 615.7 1319.4C613.7 1325.1 611.7 1330.8 610.9 1333.1"/>
<path class="c" stroke="#00ffff" style="stroke-width:11.8" d="M1654.4 1021.7C1651.3 1024.2 1646.8 1024.7 1643.0 1026.3C1639.2 1027.9 1635.4 1029.4 1631.6 1031.2C1627.7 1033.0 1623.5 1035.1 1620.1 1037.2C1616.8 1039.2 1614.1 1041.6 1611.5 1043.5C1609.0 1045.4 1606.8 1046.9 1604.7 1048.6C1602.6 1050.4 1601.2 1052.7 1598.9 1053.8C1596.7 1054.8 1593.5 1056.7 1591.2 1054.9C1588.9 1053.2 1587.1 1047.2 1585.2 1043.5C1583.3 1039.8 1582.1 1036.1 1580.1 1032.6C1578.1 1029.2 1575.9 1025.6 1573.2 1022.9C1570.5 1020.2 1567.2 1018.2 1564.0 1016.6C1560.9 1015.0 1558.3 1014.3 1554.3 1013.4C1550.3 1012.6 1544.7 1011.8 1540.0 1011.4"/>
<path class="c" stroke="#00ffff" style="stroke-width:10.6" d="M1540.0 1011.4C1535.3 1011.1 1533.1 1011.4 1526.0 1011.2C1518.9 1011.0 1528.4 1010.4 1497.4 1010.2C1466.4 1010.0 1389.1 1009.9 1340.0 1009.9C1290.9 1009.9 1233.0 1010.1 1203.1 1010.2C1173.1 1010.3 1172.1 1010.2 1160.1 1010.5C1148.2 1010.7 1138.7 1011.1 1131.5 1011.6"/>
<path class="c" stroke="#00ffff" style="stroke-width:11.8" d="M1131.5 1011.6C1124.4 1012.2 1124.4 1012.6 1117.2 1013.8C1110.1 1015.0 1098.1 1016.7 1088.6 1018.8C1079.1 1020.8 1066.1 1024.1 1060.0 1025.9C1053.9 1027.7 1055.6 1028.0 1051.8 1029.4C1048.1 1030.8 1042.3 1032.6 1037.5 1034.4C1032.7 1036.2 1028.0 1037.9 1023.2 1040.1C1018.4 1042.4 1013.7 1045.2 1008.9 1048.0C1004.1 1050.9 999.4 1053.9 994.6 1057.3C989.8 1060.8 985.1 1064.7 980.3 1068.8C975.5 1072.8 970.7 1077.1 966.0 1081.6C961.2 1086.2 956.4 1090.9 951.7 1095.9C946.9 1100.9 942.1 1107.4 937.4 1111.7C932.6 1116.0 926.6 1119.8 923.1 1121.7C919.5 1123.6 918.3 1123.2 915.9 1123.1C913.5 1123.0 912.3 1122.9 908.8 1121.0C905.2 1119.1 899.2 1116.1 894.4 1111.7C889.7 1107.3 884.9 1100.2 880.1 1094.5C875.4 1088.8 873.0 1084.0 865.8 1077.3C858.7 1070.7 846.8 1060.6 837.2 1054.4C827.7 1048.2 816.5 1043.1 808.6 1040.1"/>
<path class="c" stroke="#00ffff" style="stroke-width:11.0" d="M808.6 1040.1C800.7 1037.2 794.9 1037.5 790.0 1036.7C785.1 1035.9 782.9 1035.6 779.1 1035.2C775.4 1034.8 771.5 1034.2 767.7 1034.4C763.8 1034.7 759.6 1035.6 756.2 1036.7C752.8 1037.9 750.2 1039.3 747.0 1041.3C743.8 1043.3 740.3 1045.8 737.1 1048.6C733.8 1051.3 730.4 1054.8 727.5 1057.7C724.6 1060.7 722.4 1063.0 719.9 1066.2C717.3 1069.3 714.8 1072.9 712.2 1076.9C709.7 1080.8 707.1 1085.1 704.6 1089.9C702.1 1094.6 699.9 1099.6 697.3 1105.2C694.7 1110.7 692.3 1115.5 688.9 1123.0"/>
</g>
<line x1="429.1" y1="148.0" x2="620.2" y2="148.0" stroke="#0000ff" stroke-width="10.3" stroke-linecap="round" shape-rendering="crispEdges"/>
<text class="b" transform="translate(643.8 177.8) scale(1 1.040)">SS316-DDM80</text>
<line x1="429.1" y1="254.4" x2="620.2" y2="254.4" stroke="#00ff00" stroke-width="10.3" stroke-linecap="round" shape-rendering="crispEdges"/>
<text class="b" transform="translate(643.8 284.2) scale(1 1.040)">SS316-DDM60</text>
<line x1="429.1" y1="360.8" x2="620.2" y2="360.8" stroke="#ff0000" stroke-width="10.3" stroke-linecap="round" shape-rendering="crispEdges"/>
<text class="b" transform="translate(643.8 390.6) scale(1 1.040)">SS316-DDM40</text>
<line x1="429.1" y1="467.2" x2="620.2" y2="467.2" stroke="#000000" stroke-width="10.3" stroke-linecap="round" shape-rendering="crispEdges"/>
<text class="b" transform="translate(643.8 497.0) scale(1 1.040)">SS316-DDM20</text>
<line x1="429.1" y1="573.6" x2="620.2" y2="573.6" stroke="#00ffff" stroke-width="10.3" stroke-linecap="round" shape-rendering="crispEdges"/>
<text class="b" transform="translate(643.8 603.4) scale(1 1.040)">SS316 Pure</text>
<text class="b" text-anchor="end" transform="translate(382.0 98.6) scale(1 1.040)">0.12</text>
<text class="b" text-anchor="end" transform="translate(382.0 410.6) scale(1 1.040)">0.08</text>
<text class="b" text-anchor="end" transform="translate(382.0 722.6) scale(1 1.040)">0.04</text>
<text class="b" text-anchor="end" transform="translate(382.0 1034.6) scale(1 1.040)">0.00</text>
<text class="b" text-anchor="end" transform="translate(382.0 1346.6) scale(1 1.040)">-0.04</text>
<text class="b" text-anchor="middle" transform="translate(410.4 1413.0) scale(1 1.040)">-1.0</text>
<text class="b" text-anchor="middle" transform="translate(665.7 1413.0) scale(1 1.040)">-0.5</text>
<text class="b" text-anchor="middle" transform="translate(921.0 1413.0) scale(1 1.040)">0.0</text>
<text class="b" text-anchor="middle" transform="translate(1176.3 1413.0) scale(1 1.040)">0.5</text>
<text class="b" text-anchor="middle" transform="translate(1431.5 1413.0) scale(1 1.040)">1.0</text>
<text class="b" text-anchor="middle" transform="translate(1686.8 1413.0) scale(1 1.040)">1.5</text>
<text class="b" text-anchor="middle" transform="translate(1942.1 1413.0) scale(1 1.040)">2.0</text>
<text class="b" transform="translate(1671.0 255.3) scale(1 1.040)">OER</text>
<text class="b" transform="translate(505.7 1009.0) scale(1 1.040)">HER</text>
<text class="r" letter-spacing="0.45" transform="translate(1632.1 573.9) scale(1 1.040)">III</text>
<text class="r" letter-spacing="0.45" transform="translate(1409.2 740.4) scale(1 1.040)">II</text>
<text class="r" letter-spacing="0.45" transform="translate(983.9 763.8) scale(1 1.040)">I</text>
<text class="b" transform="translate(987.0 1557.3) scale(1 1.040)">E/V vs. RHE</text>
<text class="b" transform="translate(138.7 844.0) rotate(-90) scale(1 1.040)">j/A.cm<tspan dy="-39.4">-2</tspan></text>
</svg></body></html>
